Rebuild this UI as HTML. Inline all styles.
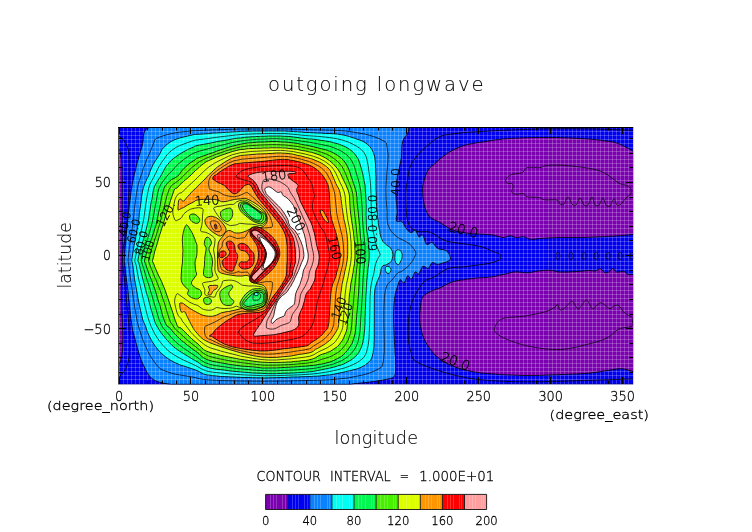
<!DOCTYPE html><html><head><meta charset="utf-8"><title>outgoing longwave</title>
<style>html,body{margin:0;padding:0;background:#fff;}svg{display:block;}text{font-family:"DejaVu Sans","Liberation Sans",sans-serif;font-weight:200;fill:#000;stroke:#000;stroke-width:0.3px;}</style></head><body>
<svg width="752" height="532" viewBox="0 0 752 532">
<defs><clipPath id="pc"><rect x="119" y="127" width="514.2" height="257.5"/></clipPath>
</defs>
<rect width="752" height="532" fill="#fff"/>
<g clip-path="url(#pc)">
<rect x="119" y="127" width="514.2" height="257.5" fill="#0000f0"/>
<path d="M119 150 C120.4 150.7 120.02 152.57 120.4 154.2 C120.78 155.83 121.07 157.45 121.3 159.8 C121.53 162.15 121.65 163.27 121.8 168.3 C121.95 173.33 122.17 175.22 122.2 190 C122.23 204.78 122.15 238.67 122 257 C121.85 275.33 121.23 288.83 121.3 300 C121.37 311.17 122.16 317.92 122.4 324 C122.64 330.08 122.75 332.33 122.75 336.5 C122.75 340.67 122.68 345.46 122.4 349 C122.12 352.54 121.58 355.46 121.1 357.75 C120.62 360.04 121.02 362.04 119.5 362.75 C117.98 363.46 113.25 397.46 112 362 C110.75 326.54 110.83 185.33 112 150 C113.17 114.67 117.6 149.3 119 150Z" fill="#7a00b0"/>
<path d="M422.8 187.4 C423.17 183.35 424.67 178.77 425.7 175.7 C426.73 172.63 427.53 170.95 429 169 C430.47 167.05 432.33 165.92 434.5 164 C436.67 162.08 439.57 159.45 442 157.5 C444.43 155.55 446.1 154.05 449.1 152.3 C452.1 150.55 456.1 148.45 460 147 C463.9 145.55 465.53 144.9 472.5 143.6 C479.47 142.3 492.05 140.18 501.8 139.2 C511.55 138.22 521.25 137.95 531 137.7 C540.75 137.45 550.55 137.45 560.3 137.7 C570.05 137.95 580.72 138.47 589.5 139.2 C598.28 139.93 607.13 140.88 613 142.1 C618.87 143.32 621.2 144.8 624.7 146.5 C628.2 148.2 631.45 150.05 634 152.3 C636.55 154.55 639 146.33 640 160 C641 173.67 641 221.92 640 234.3 C639 246.68 637.53 234.07 634 234.3 C630.47 234.53 626.22 235.22 618.8 235.7 C611.38 236.18 599.25 236.92 589.5 237.2 C579.75 237.48 568.38 237.22 560.3 237.4 C552.22 237.58 545.95 238 541 238.3 C536.05 238.6 533.48 239.48 530.6 239.2 C527.72 238.92 526 236.88 523.7 236.6 C521.4 236.32 519.1 237.65 516.8 237.5 C514.5 237.35 512.2 235.7 509.9 235.7 C507.6 235.7 505.88 237.63 503 237.5 C500.12 237.37 496.35 235.48 492.6 234.9 C488.85 234.32 484.53 234.28 480.5 234 C476.47 233.72 472.72 233.77 468.4 233.2 C464.08 232.63 458.35 231.77 454.6 230.6 C450.85 229.43 448.22 227.5 445.9 226.2 C443.58 224.9 443 224.08 440.7 222.8 C438.4 221.52 434.12 219.8 432.1 218.5 C430.08 217.2 429.7 216.58 428.6 215 C427.5 213.42 426.35 211.5 425.5 209 C424.65 206.5 423.95 203.6 423.5 200 C423.05 196.4 422.43 191.45 422.8 187.4Z" fill="#7a00b0"/>
<path d="M422.8 297 C424.67 294.07 428.62 292.67 431.6 291.1 C434.58 289.53 437.45 289.05 440.7 287.6 C443.95 286.15 447.35 283.7 451.1 282.4 C454.85 281.1 458.88 280.52 463.2 279.8 C467.52 279.08 472.68 278.53 477 278.1 C481.32 277.67 484.77 277.78 489.1 277.2 C493.43 276.62 498.67 275.47 503 274.6 C507.33 273.73 511.07 272.28 515.1 272 C519.13 271.72 523.47 273.03 527.2 272.9 C530.93 272.77 533.7 271.63 537.5 271.2 C541.3 270.77 546.2 270.15 550 270.3 C553.8 270.45 555.3 271.92 560.3 272.1 C565.3 272.28 575.23 271.65 580 271.4 C584.77 271.15 586.3 270.67 588.9 270.6 C591.5 270.53 593.73 271.3 595.6 271 C597.47 270.7 598.6 268.55 600.1 268.8 C601.6 269.05 603.23 271.88 604.6 272.5 C605.97 273.12 606.93 273.12 608.3 272.5 C609.67 271.88 611.43 268.87 612.8 268.8 C614.17 268.73 614.65 271.67 616.5 272.1 C618.35 272.53 622.03 271.02 623.9 271.4 C625.77 271.78 626.02 273.88 627.7 274.4 C629.38 274.92 631.12 274.48 634 274.5 C636.88 274.52 643.17 259.53 645 274.5 C646.83 289.47 649.37 348.62 645 364.3 C640.63 379.98 628.05 367.15 618.8 368.6 C609.55 370.05 599.25 372.02 589.5 373 C579.75 373.98 570.05 374.1 560.3 374.5 C550.55 374.9 540.75 375.4 531 375.4 C521.25 375.4 511.55 375.13 501.8 374.5 C492.05 373.87 480.8 373.07 472.5 371.6 C464.2 370.13 457.85 368.15 452 365.7 C446.15 363.25 441.3 360.07 437.4 356.9 C433.5 353.73 431.03 350.35 428.6 346.7 C426.17 343.05 424.25 339.38 422.8 335 C421.35 330.62 420.3 324.78 419.9 320.4 C419.5 316.02 419.92 312.6 420.4 308.7 C420.88 304.8 420.93 299.93 422.8 297Z" fill="#7a00b0"/>
<path d="M124.6 257 C125.02 250.33 126.32 235.83 127.4 225 C128.48 214.17 129.97 200.17 131.1 192 C132.23 183.83 133.32 180.27 134.2 176 C135.08 171.73 135.73 169.1 136.4 166.4 C137.07 163.7 137.58 162 138.2 159.8 C138.82 157.6 139.47 155.38 140.1 153.2 C140.73 151.02 141.48 148.73 142 146.7 C142.52 144.67 142.93 142.73 143.2 141 C143.47 139.27 143.4 137.77 143.6 136.3 C143.8 134.83 143.9 133.42 144.4 132.2 C144.9 130.98 145.58 129.83 146.6 129 C147.62 128.17 148.93 127.57 150.5 127.2 C152.07 126.83 131.08 126.87 156 126.8 C180.92 126.73 258.5 126.8 300 126.8 C341.5 126.8 386.92 126.68 405 126.8 C423.08 126.92 408.08 126.38 408.5 127.5 C408.92 128.62 408.28 131.67 407.5 133.5 C406.72 135.33 404.73 136.62 403.8 138.5 C402.87 140.38 402.32 141.62 401.9 144.75 C401.47 147.88 401.57 154.12 401.25 157.25 C400.93 160.38 400.62 160.38 400 163.5 C399.38 166.62 398.17 172.25 397.5 176 C396.83 179.75 396.32 183.33 396 186 C395.68 188.67 395.52 188.92 395.6 192 C395.68 195.08 396.27 201.17 396.5 204.5 C396.73 207.83 397.02 209.25 397 212 C396.98 214.75 395.57 219.4 396.4 221 C397.23 222.6 400.43 220.4 402 221.6 C403.57 222.8 404.23 226.33 405.8 228.2 C407.37 230.07 409.83 232.57 411.4 232.8 C412.97 233.03 413.95 228.9 415.2 229.6 C416.45 230.3 417.65 236.1 418.9 237 C420.15 237.9 421.43 233.75 422.7 235 C423.97 236.25 424.93 243.23 426.5 244.5 C428.07 245.77 430.23 241.93 432.1 242.6 C433.97 243.27 435.5 247.22 437.7 248.5 C439.9 249.78 443.37 249.3 445.3 250.3 C447.23 251.3 448.52 252.92 449.3 254.5 C450.08 256.08 450.67 258.52 450 259.8 C449.33 261.08 447.35 261.47 445.3 262.2 C443.25 262.93 439.9 264.13 437.7 264.2 C435.5 264.27 433.67 261.93 432.1 262.6 C430.53 263.27 429.87 267.58 428.3 268.2 C426.73 268.82 424.27 265.37 422.7 266.3 C421.13 267.23 420.15 272.88 418.9 273.8 C417.65 274.72 416.45 270.9 415.2 271.8 C413.95 272.7 412.65 278.57 411.4 279.2 C410.15 279.83 408.95 274.97 407.7 275.6 C406.45 276.23 405.15 282.35 403.9 283 C402.65 283.65 401.3 278.83 400.2 279.5 C399.1 280.17 398.17 284.42 397.3 287 C396.43 289.58 395.63 291.17 395 295 C394.37 298.83 393.75 305.17 393.5 310 C393.25 314.83 393.4 319.58 393.5 324 C393.6 328.42 393.89 332.33 394.1 336.5 C394.31 340.67 394.53 344.83 394.75 349 C394.97 353.17 395.32 357.42 395.4 361.5 C395.47 365.58 395.72 370.79 395.2 373.5 C394.68 376.21 394.62 376.62 392.25 377.75 C389.88 378.88 384.96 379.52 381 380.25 C377.04 380.98 372.67 381.58 368.5 382.1 C364.33 382.62 359.33 383.03 356 383.4 C352.67 383.77 351.17 384.13 348.5 384.3 C345.83 384.47 368.08 384.38 340 384.4 C311.92 384.42 207.67 384.42 180 384.4 C152.33 384.38 176.33 384.45 174 384.3 C171.67 384.15 168.75 383.97 166 383.5 C163.25 383.03 159.92 382.42 157.5 381.5 C155.08 380.58 153.17 379.42 151.5 378 C149.83 376.58 148.75 375 147.5 373 C146.25 371 145.17 368.5 144 366 C142.83 363.5 141.58 361 140.5 358 C139.42 355 138.5 351.58 137.5 348 C136.5 344.42 135.46 340.5 134.5 336.5 C133.54 332.5 132.83 331.58 131.75 324 C130.67 316.42 129.14 300.83 128 291 C126.86 281.17 125.47 270.67 124.9 265 C124.33 259.33 124.18 263.67 124.6 257Z" fill="#0a82ff"/>
<path d="M132.3 257 C133.17 250.33 136.28 235.83 138 225 C139.72 214.17 141.18 199.5 142.6 192 C144.02 184.5 145.5 182.67 146.5 180 C147.5 177.33 148.02 177.33 148.6 176 C149.18 174.67 149.38 173.6 150 172 C150.62 170.4 151.37 168.28 152.3 166.4 C153.23 164.52 154.48 162.52 155.6 160.7 C156.72 158.88 157.8 157.53 159 155.5 C160.2 153.47 161.23 150.52 162.8 148.5 C164.37 146.48 166.37 144.88 168.4 143.4 C170.43 141.92 172.65 140.62 175 139.6 C177.35 138.58 179.85 138 182.5 137.3 C185.15 136.6 188.15 135.9 190.9 135.4 C193.65 134.9 191.15 134.93 199 134.3 C206.85 133.67 227 132.12 238 131.6 C249 131.08 257 131.27 265 131.2 C273 131.13 279.17 130.98 286 131.2 C292.83 131.42 299.33 132.12 306 132.5 C312.67 132.88 321.1 133.25 326 133.5 C330.9 133.75 332.27 133.68 335.4 134 C338.53 134.32 341.67 134.7 344.8 135.4 C347.93 136.1 351.38 137.27 354.2 138.2 C357.02 139.13 359.69 140.12 361.7 141 C363.71 141.88 364.62 142.17 366.25 143.5 C367.88 144.83 370.12 146.71 371.5 149 C372.88 151.29 373.82 153.79 374.5 157.25 C375.18 160.71 375.35 163.96 375.6 169.75 C375.85 175.54 375.88 186.21 376 192 C376.12 197.79 376.08 200.67 376.3 204.5 C376.52 208.33 376.8 210.75 377.3 215 C377.8 219.25 378.55 225.92 379.3 230 C380.05 234.08 380.82 237.2 381.8 239.5 C382.78 241.8 383.7 242.3 385.2 243.8 C386.7 245.3 389.53 246.65 390.8 248.5 C392.07 250.35 392.77 252.77 392.8 254.9 C392.83 257.03 392 259.7 391 261.3 C390 262.9 388.3 263.63 386.8 264.5 C385.3 265.37 383.2 264.63 382 266.5 C380.8 268.37 380.63 272.57 379.6 275.7 C378.57 278.83 376.7 281.92 375.8 285.3 C374.9 288.68 374.48 289.55 374.2 296 C373.92 302.45 374.12 317.25 374.1 324 C374.08 330.75 374.2 332.33 374.1 336.5 C374 340.67 374.02 345.25 373.5 349 C372.98 352.75 372.46 356.29 371 359 C369.54 361.71 367.25 363.58 364.75 365.25 C362.25 366.92 359.54 367.86 356 369 C352.46 370.14 347.67 371.17 343.5 372.1 C339.33 373.03 335.17 373.97 331 374.6 C326.83 375.23 322.67 375.58 318.5 375.9 C314.33 376.22 315.42 376.19 306 376.5 C296.58 376.81 277.67 377.9 262 377.75 C246.33 377.6 222.83 376.81 212 375.6 C201.17 374.39 201.98 372.18 197 370.5 C192.02 368.82 186.33 367.13 182.1 365.5 C177.87 363.87 174.88 362.58 171.6 360.7 C168.32 358.82 165.25 356.83 162.4 354.2 C159.55 351.57 156.7 347.98 154.5 344.9 C152.3 341.82 150.73 338.98 149.2 335.7 C147.67 332.42 146.42 328.15 145.3 325.2 C144.18 322.25 143.93 323.7 142.5 318 C141.07 312.3 138.37 299.83 136.75 291 C135.13 282.17 133.54 270.67 132.8 265 C132.06 259.33 131.43 263.67 132.3 257Z" fill="#00fff0"/>
<path d="M396 251 C396.75 250 398.5 249.5 399.5 250 C400.5 250.5 401.67 252.5 402 254 C402.33 255.5 402.08 257.25 401.5 259 C400.92 260.75 399.5 264 398.5 264.5 C397.5 265 396.08 263.42 395.5 262 C394.92 260.58 394.92 257.83 395 256 C395.08 254.17 395.25 252 396 251Z" fill="#00fff0"/>
<path d="M385.5 267.5 C385.92 266.58 387.58 266.17 388.5 266.5 C389.42 266.83 390.92 268.37 391 269.5 C391.08 270.63 389.83 272.88 389 273.3 C388.17 273.72 386.58 272.97 386 272 C385.42 271.03 385.08 268.42 385.5 267.5Z" fill="#00fff0"/>
<path d="M138.6 257 C139.92 250.33 144.97 235.83 147.4 225 C149.83 214.17 151.77 198.83 153.2 192 C154.63 185.17 154.72 186.67 156 184 C157.28 181.33 159.3 178.78 160.9 176 C162.5 173.22 163.73 170 165.6 167.3 C167.47 164.6 169.75 161.98 172.1 159.8 C174.45 157.62 177.18 155.85 179.7 154.2 C182.22 152.55 184.87 151.08 187.2 149.9 C189.53 148.72 191.73 147.88 193.7 147.1 C195.67 146.32 191.62 146.68 199 145.2 C206.38 143.72 227 139.68 238 138.2 C249 136.72 257 136.6 265 136.3 C273 136 279.17 136.02 286 136.4 C292.83 136.78 299.54 137.87 306 138.6 C312.46 139.33 319.53 139.93 324.75 140.8 C329.97 141.67 333.64 142.67 337.3 143.8 C340.96 144.93 344.05 146.15 346.7 147.6 C349.35 149.05 351.33 150.62 353.2 152.5 C355.07 154.38 356.65 156.58 357.9 158.9 C359.15 161.22 359.85 163.55 360.7 166.4 C361.55 169.25 362.32 172.94 363 176 C363.68 179.06 364.35 182.08 364.75 184.75 C365.15 187.42 365.19 188.71 365.4 192 C365.61 195.29 365.9 200.33 366 204.5 C366.1 208.67 365.9 212.83 366 217 C366.1 221.17 366.18 225.17 366.6 229.5 C367.02 233.83 368.1 238.25 368.5 243 C368.9 247.75 369.17 253.17 369 258 C368.83 262.83 368 266.5 367.5 272 C367 277.5 366.46 282.33 366 291 C365.54 299.67 365.07 316.83 364.75 324 C364.43 331.17 364.52 330.67 364.1 334 C363.68 337.33 363.18 340.88 362.25 344 C361.32 347.12 360.17 350.25 358.5 352.75 C356.83 355.25 354.75 357.12 352.25 359 C349.75 360.88 346.62 362.65 343.5 364 C340.38 365.35 337.04 366.17 333.5 367.1 C329.96 368.03 326.83 368.77 322.25 369.6 C317.67 370.43 316.04 371.47 306 372.1 C295.96 372.73 277.67 374.02 262 373.4 C246.33 372.78 222.83 370.38 212 368.4 C201.17 366.42 201.33 363.73 197 361.5 C192.67 359.27 189.5 357.17 186 355 C182.5 352.83 179 350.83 176 348.5 C173 346.17 170.42 343.58 168 341 C165.58 338.42 163.33 335.5 161.5 333 C159.67 330.5 158.17 328.17 157 326 C155.83 323.83 156.32 325.83 154.5 320 C152.68 314.17 148.6 300.17 146.1 291 C143.6 281.83 140.75 270.67 139.5 265 C138.25 259.33 137.28 263.67 138.6 257Z" fill="#00f850"/>
<path d="M145.5 257 C147.17 250.33 153.08 235.83 156 225 C158.92 214.17 161.17 198.83 163 192 C164.83 185.17 165.67 186 167 184 C168.33 182 169.2 181.33 171 180 C172.8 178.67 175.73 177.8 177.8 176 C179.87 174.2 181.37 171.35 183.4 169.2 C185.43 167.05 187.8 164.82 190 163.1 C192.2 161.38 195.1 159.83 196.6 158.9 C198.1 157.97 192.1 159.85 199 157.5 C205.9 155.15 227 147.4 238 144.8 C249 142.2 257 142.33 265 141.9 C273 141.47 279.17 141.65 286 142.2 C292.83 142.75 299.33 143.9 306 145.2 C312.67 146.5 321.25 148.6 326 150 C330.75 151.4 332 152.27 334.5 153.6 C337 154.93 339.13 156.33 341 158 C342.87 159.67 344.37 161.58 345.7 163.6 C347.03 165.62 348.13 168.03 349 170.1 C349.87 172.17 349.73 172.35 350.9 176 C352.07 179.65 354.94 187.25 356 192 C357.06 196.75 356.83 200.33 357.25 204.5 C357.67 208.67 358.08 212.83 358.5 217 C358.92 221.17 359.33 224.83 359.75 229.5 C360.17 234.17 360.88 240.25 361 245 C361.12 249.75 360.75 253.5 360.5 258 C360.25 262.5 359.83 266.5 359.5 272 C359.17 277.5 359.08 282.33 358.5 291 C357.92 299.67 356.62 316.83 356 324 C355.38 331.17 355.38 330.88 354.75 334 C354.12 337.12 353.5 340.04 352.25 342.75 C351 345.46 349.12 347.96 347.25 350.25 C345.38 352.54 343.71 354.62 341 356.5 C338.29 358.38 334.33 360.25 331 361.5 C327.67 362.75 325.17 363.25 321 364 C316.83 364.75 315.83 365.38 306 366 C296.17 366.62 277.67 368.58 262 367.75 C246.33 366.92 222.83 363.62 212 361 C201.17 358.38 201.33 354.83 197 352 C192.67 349.17 189.33 346.67 186 344 C182.67 341.33 179.67 338.67 177 336 C174.33 333.33 172 330.33 170 328 C168 325.67 167.42 328.17 165 322 C162.58 315.83 158.67 300.5 155.5 291 C152.33 281.5 147.67 270.67 146 265 C144.33 259.33 143.83 263.67 145.5 257Z" fill="#46f000"/>
<path d="M153.5 257 C154.96 250.33 159.65 235.83 163 225 C166.35 214.17 171.27 198.17 173.6 192 C175.93 185.83 175.43 189.67 177 188 C178.57 186.33 180.83 184 183 182 C185.17 180 187.33 178.42 190 176 C192.67 173.58 195.67 170.17 199 167.5 C202.33 164.83 203.5 162.88 210 160 C216.5 157.12 228.83 152.18 238 150.2 C247.17 148.22 257 148.43 265 148.1 C273 147.77 279.17 147.68 286 148.2 C292.83 148.72 300.67 150.15 306 151.2 C311.33 152.25 314.67 153.3 318 154.5 C321.33 155.7 323.73 157.05 326 158.4 C328.27 159.75 329.88 161.12 331.6 162.6 C333.32 164.08 334.88 165.58 336.3 167.3 C337.72 169.02 339.23 171.45 340.1 172.9 C340.97 174.35 340.1 172.82 341.5 176 C342.9 179.18 347.12 187.25 348.5 192 C349.88 196.75 349.33 200.33 349.75 204.5 C350.17 208.67 350.48 212.83 351 217 C351.52 221.17 352.32 224.83 352.9 229.5 C353.48 234.17 354.19 240.25 354.5 245 C354.81 249.75 355 253.5 354.75 258 C354.5 262.5 353.83 266.5 353 272 C352.17 277.5 350.71 282.33 349.75 291 C348.79 299.67 347.88 317.25 347.25 324 C346.62 330.75 346.83 328.79 346 331.5 C345.17 334.21 343.71 337.75 342.25 340.25 C340.79 342.75 339.33 344.62 337.25 346.5 C335.17 348.38 332.46 350.15 329.75 351.5 C327.04 352.85 324.96 353.14 321 354.6 C317.04 356.06 315.83 359 306 360.25 C296.17 361.5 277.67 363.31 262 362.1 C246.33 360.89 222.83 356.18 212 353 C201.17 349.82 201 346 197 343 C193 340 190.67 337.5 188 335 C185.33 332.5 182.88 329.83 181 328 C179.12 326.17 179.33 330.17 176.75 324 C174.17 317.83 169.25 300.83 165.5 291 C161.75 281.17 156.25 270.67 154.25 265 C152.25 259.33 152.04 263.67 153.5 257Z" fill="#dcff00"/>
<path d="M178 208 C178.75 191.17 182 203.33 184 201 C186 198.67 188 196.17 190 194 C192 191.83 193.67 190.33 196 188 C198.33 185.67 201.33 182.67 204 180 C206.67 177.33 209 174.67 212 172 C215 169.33 217.67 166.63 222 164 C226.33 161.37 230.83 157.9 238 156.2 C245.17 154.5 257 154.27 265 153.8 C273 153.33 279.17 152.82 286 153.4 C292.83 153.98 300.67 155.95 306 157.3 C311.33 158.65 314.67 159.98 318 161.5 C321.33 163.02 324.03 164.97 326 166.4 C327.97 167.83 328.7 168.5 329.8 170.1 C330.9 171.7 331.57 173.68 332.6 176 C333.63 178.32 334.81 181.33 336 184 C337.19 186.67 338.82 188.58 339.75 192 C340.68 195.42 340.98 200.33 341.6 204.5 C342.23 208.67 342.77 212.83 343.5 217 C344.23 221.17 345.33 225.33 346 229.5 C346.67 233.67 347.29 237.25 347.5 242 C347.71 246.75 347.83 252.5 347.25 258 C346.67 263.5 345.04 269.5 344 275 C342.96 280.5 341.92 282.83 341 291 C340.08 299.17 339.33 317.25 338.5 324 C337.67 330.75 337.25 329 336 331.5 C334.75 334 332.88 336.92 331 339 C329.12 341.08 327.25 342.33 324.75 344 C322.25 345.67 319.12 347.43 316 349 C312.88 350.57 315 352.05 306 353.4 C297 354.75 277.67 358.75 262 357.1 C246.33 355.45 222.83 347.52 212 343.5 C201.17 339.48 200.67 336.58 197 333 C193.33 329.42 192 325.5 190 322 C188 318.5 186.75 315.33 185 312 C183.25 308.67 180.67 319.33 179.5 302 C178.33 284.67 177.25 224.83 178 208Z" fill="#ff9600"/>
<path d="M212.5 179 C213.5 174.75 214.68 176.07 216.5 174.5 C218.32 172.93 220.83 171.22 223.4 169.6 C225.97 167.98 229.3 165.83 231.9 164.8 C234.5 163.77 233.48 164.02 239 163.4 C244.52 162.78 257.17 161.75 265 161.1 C272.83 160.45 279.17 159.02 286 159.5 C292.83 159.98 301 162.42 306 164 C311 165.58 313.17 167 316 169 C318.83 171 321.08 173.5 323 176 C324.92 178.5 326.48 181.33 327.5 184 C328.52 186.67 328.73 188.58 329.1 192 C329.48 195.42 329.43 200.33 329.75 204.5 C330.07 208.67 330.17 212.83 331 217 C331.83 221.17 333.58 225.33 334.75 229.5 C335.92 233.67 337.17 237.25 338 242 C338.83 246.75 340.08 252.5 339.75 258 C339.42 263.5 337.46 269.5 336 275 C334.54 280.5 332.25 282.83 331 291 C329.75 299.17 329.54 317.25 328.5 324 C327.46 330.75 326.42 329.21 324.75 331.5 C323.08 333.79 320.79 335.88 318.5 337.75 C316.21 339.62 313.08 341.39 311 342.75 C308.92 344.11 310 344.96 306 345.9 C302 346.84 294.33 347.57 287 348.4 C279.67 349.23 270.33 351.01 262 350.9 C253.67 350.79 243.25 348.9 237 347.75 C230.75 346.6 228.67 345.88 224.5 344 C220.33 342.12 214.58 338.33 212 336.5 C209.42 334.67 209.67 339.08 209 333 C208.33 326.92 208 313.83 208 300 C208 286.17 208.58 266.67 209 250 C209.42 233.33 209.92 211.83 210.5 200 C211.08 188.17 211.5 183.25 212.5 179Z" fill="#ff0000"/>
<path d="M212 334 C210.42 334.58 207.5 338.67 206 333 C204.5 327.33 203.33 313.83 203 300 C202.67 286.17 203.33 266.67 204 250 C204.67 233.33 206 210.83 207 200 C208 189.17 209.08 188.42 210 185 C210.92 181.58 211.18 179.9 212.5 179.5 C213.82 179.1 216.12 181.72 217.9 182.6 C219.68 183.48 221.65 183.8 223.2 184.8 C224.75 185.8 225.9 187.37 227.2 188.6 C228.5 189.83 229.78 191.3 231 192.2 C232.22 193.1 233.33 193.95 234.5 194 C235.67 194.05 236.83 193.33 238 192.5 C239.17 191.67 240.33 190.17 241.5 189 C242.67 187.83 243.62 186.2 245 185.5 C246.38 184.8 248.3 183.8 249.8 184.8 C251.3 185.8 252.63 189.3 254 191.5 C255.37 193.7 256.5 195.92 258 198 C259.5 200.08 261.33 202 263 204 C264.67 206 266.33 208 268 210 C269.67 212 271.33 214 273 216 C274.67 218 276.5 220 278 222 C279.5 224 280.75 225.67 282 228 C283.25 230.33 284.67 233 285.5 236 C286.33 239 286.72 242.67 287 246 C287.28 249.33 287.25 252.67 287.2 256 C287.15 259.33 286.9 262.67 286.7 266 C286.5 269.33 286.78 273 286 276 C285.22 279 283.58 281.33 282 284 C280.42 286.67 278.17 289.67 276.5 292 C274.83 294.33 273.42 295.83 272 298 C270.58 300.17 269.17 303 268 305 C266.83 307 266.33 308.83 265 310 C263.67 311.17 261.67 311.58 260 312 C258.33 312.42 257.08 312.32 255 312.5 C252.92 312.68 249.79 312.89 247.5 313.1 C245.21 313.31 243.12 313.43 241.25 313.75 C239.38 314.07 238.12 314.17 236.25 315 C234.38 315.83 232.29 317.29 230 318.75 C227.71 320.21 224.92 321.96 222.5 323.75 C220.08 325.54 217.25 327.79 215.5 329.5 C213.75 331.21 213.58 333.42 212 334Z" fill="#ff9600"/>
<path d="M178.75 210 C180.38 208.92 182.08 208.43 183.75 207.5 C185.42 206.57 187.08 205.33 188.75 204.4 C190.42 203.47 192.29 202.63 193.75 201.9 C195.21 201.17 195.21 200.42 197.5 200 C199.79 199.58 204.17 199.4 207.5 199.4 C210.83 199.4 215 199.58 217.5 200 C220 200.42 220.42 201.8 222.5 201.9 C224.58 202 227.92 201 230 200.6 C232.08 200.2 233.33 199.77 235 199.5 C236.67 199.23 238.33 199.17 240 199 C241.67 198.83 243.33 198.25 245 198.5 C246.67 198.75 248.17 199.58 250 200.5 C251.83 201.42 254 202.67 256 204 C258 205.33 260.33 206.83 262 208.5 C263.67 210.17 265.17 211.92 266 214 C266.83 216.08 267.5 218.92 267 221 C266.5 223.08 264.83 225.25 263 226.5 C261.17 227.75 258.17 228.08 256 228.5 C253.83 228.92 251.67 228.58 250 229 C248.33 229.42 247.67 230.37 246 231 C244.33 231.63 241.97 232.55 240 232.8 C238.03 233.05 235.9 232.9 234.2 232.5 C232.5 232.1 231.08 230.57 229.8 230.4 C228.52 230.23 227.77 230.42 226.5 231.5 C225.23 232.58 223.55 235.08 222.2 236.9 C220.85 238.72 219.17 240.22 218.4 242.4 C217.63 244.58 217.78 247.28 217.6 250 C217.42 252.72 217.27 255.78 217.3 258.7 C217.33 261.62 217.53 265.32 217.8 267.5 C218.07 269.68 217.8 270.72 218.9 271.8 C220 272.88 222.58 273.45 224.4 274 C226.22 274.55 227.08 274.73 229.8 275.1 C232.52 275.47 237.97 276.13 240.7 276.2 C243.43 276.27 244.65 275.37 246.2 275.5 C247.75 275.63 249.03 276 250 277 C250.97 278 250.67 280.33 252 281.5 C253.33 282.67 256 283.25 258 284 C260 284.75 262.5 284.67 264 286 C265.5 287.33 266.5 289.67 267 292 C267.5 294.33 267.5 297.62 267 300 C266.5 302.38 265.58 305 264 306.25 C262.42 307.5 259.83 306.88 257.5 307.5 C255.17 308.12 252.08 310 250 310 C247.92 310 246.67 307.71 245 307.5 C243.33 307.29 241.67 308.33 240 308.75 C238.33 309.17 236.88 309.58 235 310 C233.12 310.42 230.83 310.83 228.75 311.25 C226.67 311.67 224.58 311.88 222.5 312.5 C220.42 313.12 218.12 314.38 216.25 315 C214.38 315.62 213.54 316.25 211.25 316.25 C208.96 316.25 205.21 315.83 202.5 315 C199.79 314.17 197.29 312.5 195 311.25 C192.71 310 190.83 308.86 188.75 307.5 C186.67 306.14 184.17 303.93 182.5 303.1 C180.83 302.27 180.5 303.68 178.75 302.5 C177 301.32 173.79 299.42 172 296 C170.21 292.58 169.08 287.67 168 282 C166.92 276.33 165.75 269 165.5 262 C165.25 255 165.75 246.67 166.5 240 C167.25 233.33 168.75 226.33 170 222 C171.25 217.67 172.54 216 174 214 C175.46 212 177.12 211.08 178.75 210Z" fill="#dcff00"/>
<path d="M205.5 219 C206.17 217.83 208 216.83 209.5 216.5 C211 216.17 212.83 216.42 214.5 217 C216.17 217.58 218 218.75 219.5 220 C221 221.25 222.42 222.92 223.5 224.5 C224.58 226.08 225.92 228 226 229.5 C226.08 231 225 232.42 224 233.5 C223 234.58 221.33 235.92 220 236 C218.67 236.08 217.33 234.75 216 234 C214.67 233.25 213.33 232.58 212 231.5 C210.67 230.42 209.08 228.83 208 227.5 C206.92 226.17 205.92 224.92 205.5 223.5 C205.08 222.08 204.83 220.17 205.5 219Z" fill="#ff9600"/>
<path d="M208.5 286.2 C209.08 285.45 211.5 285.6 213 285.5 C214.5 285.4 216.92 285.1 217.5 285.6 C218.08 286.1 217.25 287.6 216.5 288.5 C215.75 289.4 213.92 290 213 291 C212.08 292 211.83 293.97 211 294.5 C210.17 295.03 208.25 294.95 208 294.2 C207.75 293.45 209.42 291.33 209.5 290 C209.58 288.67 207.92 286.95 208.5 286.2Z" fill="#ff9600"/>
<path d="M226.5 242.4 C227.05 241.32 229.62 240.95 230.9 241.3 C232.18 241.65 233.47 242.87 234.2 244.5 C234.93 246.13 234.75 249.27 235.3 251.1 C235.85 252.93 237.32 253.68 237.5 255.5 C237.68 257.32 236.95 260 236.4 262 C235.85 264 234.75 266.05 234.2 267.5 C233.65 268.95 234.02 270.17 233.1 270.7 C232.18 271.23 230.15 271.23 228.7 270.7 C227.25 270.17 225.48 268.95 224.4 267.5 C223.32 266.05 222.2 263.47 222.2 262 C222.2 260.53 223.5 259.62 224.4 258.7 C225.3 257.78 226.7 257.58 227.6 256.5 C228.5 255.42 229.8 253.65 229.8 252.2 C229.8 250.75 228.15 249.43 227.6 247.8 C227.05 246.17 225.95 243.48 226.5 242.4Z" fill="#ff0000"/>
<path d="M220 252.2 C220.82 251.3 223.4 250.73 224.4 251.1 C225.4 251.47 226.37 253.32 226 254.4 C225.63 255.48 223.28 257.25 222.2 257.6 C221.12 257.95 219.87 257.4 219.5 256.5 C219.13 255.6 219.18 253.1 220 252.2Z" fill="#ff0000"/>
<path d="M238.5 244.5 C239.23 243.78 241.43 243.32 242.9 243.5 C244.37 243.68 246.2 244.7 247.3 245.6 C248.4 246.5 248.78 247.98 249.5 248.9 C250.22 249.82 250.88 250.18 251.6 251.1 C252.32 252.02 253.43 252.58 253.8 254.4 C254.17 256.22 254.17 260 253.8 262 C253.43 264 252.68 265.32 251.6 266.4 C250.52 267.48 248.93 268.15 247.3 268.5 C245.67 268.85 243.17 269.03 241.8 268.5 C240.43 267.97 239.28 266.38 239.1 265.3 C238.92 264.22 239.52 262.55 240.7 262 C241.88 261.45 244.73 262.55 246.2 262 C247.67 261.45 249.13 259.97 249.5 258.7 C249.87 257.43 249.13 255.67 248.4 254.4 C247.67 253.13 246.38 251.83 245.1 251.1 C243.82 250.37 241.8 250.55 240.7 250 C239.6 249.45 238.87 248.72 238.5 247.8 C238.13 246.88 237.77 245.22 238.5 244.5Z" fill="#ff0000"/>
<path d="M214.6 224.8 C214.73 224.08 215.82 224.03 216.2 224.6 C216.58 225.17 217.03 227.48 216.9 228.2 C216.77 228.92 215.78 229.47 215.4 228.9 C215.02 228.33 214.47 225.52 214.6 224.8Z" fill="#ff0000"/>
<path d="M190 215 C190.73 214.07 193.43 213.78 195 214.4 C196.57 215.03 198.78 217.4 199.4 218.75 C200.03 220.1 199.48 221.78 198.75 222.5 C198.02 223.22 196.36 223.52 195 223.1 C193.64 222.68 191.43 221.35 190.6 220 C189.77 218.65 189.27 215.93 190 215Z" fill="#46f000"/>
<path d="M221.25 211.25 C222.19 210.21 224.58 209.17 226.25 208.75 C227.92 208.33 230.21 207.71 231.25 208.75 C232.29 209.79 232.71 213.12 232.5 215 C232.29 216.88 231.04 218.96 230 220 C228.96 221.04 227.5 221.46 226.25 221.25 C225 221.04 223.44 219.79 222.5 218.75 C221.56 217.71 220.81 216.25 220.6 215 C220.39 213.75 220.31 212.29 221.25 211.25Z" fill="#46f000"/>
<path d="M186.25 225 C187.08 224.38 187.71 226.04 188.75 227.5 C189.79 228.96 191.46 231.67 192.5 233.75 C193.54 235.83 194.27 237.92 195 240 C195.73 242.08 196.65 243.58 196.9 246.25 C197.15 248.92 196.82 253.38 196.5 256 C196.18 258.62 195.17 259.67 195 262 C194.83 264.33 195.29 267.83 195.5 270 C195.71 272.17 196.96 272.92 196.25 275 C195.54 277.08 191.46 280.42 191.25 282.5 C191.04 284.58 193.54 286.25 195 287.5 C196.46 288.75 198.96 288.75 200 290 C201.04 291.25 201.67 293.54 201.25 295 C200.83 296.46 199.17 298.33 197.5 298.75 C195.83 299.17 192.92 298.33 191.25 297.5 C189.58 296.67 187.96 295 187.5 293.75 C187.04 292.5 189 291.25 188.5 290 C188 288.75 185.67 287.75 184.5 286.25 C183.33 284.75 182 283.38 181.5 281 C181 278.62 181.33 275.17 181.5 272 C181.67 268.83 182.25 265.67 182.5 262 C182.75 258.33 183 253.67 183 250 C183 246.33 182.38 243.12 182.5 240 C182.62 236.88 183.12 233.75 183.75 231.25 C184.38 228.75 185.42 225.62 186.25 225Z" fill="#46f000"/>
<path d="M206.25 237.5 C207.18 236.67 209.17 237.71 210 238.75 C210.83 239.79 211.46 242.08 211.25 243.75 C211.04 245.42 208.75 246.71 208.75 248.75 C208.75 250.79 210.62 253.79 211.25 256 C211.88 258.21 212.46 259.67 212.5 262 C212.54 264.33 211.5 267.67 211.5 270 C211.5 272.33 213.08 274.75 212.5 276 C211.92 277.25 209.46 277.67 208 277.5 C206.54 277.33 204.33 277.08 203.75 275 C203.17 272.92 204.29 268.17 204.5 265 C204.71 261.83 204.71 258.71 205 256 C205.29 253.29 206.35 250.79 206.25 248.75 C206.15 246.71 204.4 245.62 204.4 243.75 C204.4 241.88 205.32 238.33 206.25 237.5Z" fill="#46f000"/>
<path d="M203.75 298.75 C204.17 297.71 206.25 297.29 207.5 297.5 C208.75 297.71 210.83 298.96 211.25 300 C211.67 301.04 211.04 303.12 210 303.75 C208.96 304.38 206.04 304.58 205 303.75 C203.96 302.92 203.33 299.79 203.75 298.75Z" fill="#46f000"/>
<path d="M220 292.5 C220.62 290.21 223.12 288.75 225 287.5 C226.88 286.25 230 285 231.25 285 C232.5 285 232.92 286.25 232.5 287.5 C232.08 288.75 229.17 290.83 228.75 292.5 C228.33 294.17 229.17 296.04 230 297.5 C230.83 298.96 233.54 300 233.75 301.25 C233.96 302.5 232.71 304.38 231.25 305 C229.79 305.62 226.67 305.62 225 305 C223.33 304.38 222.08 303.33 221.25 301.25 C220.42 299.17 219.38 294.79 220 292.5Z" fill="#46f000"/>
<path d="M238.75 203.75 C239.17 202.4 241.04 202.11 242.5 201.9 C243.96 201.69 245.83 201.78 247.5 202.5 C249.17 203.22 250.42 204.79 252.5 206.25 C254.58 207.71 257.92 209.88 260 211.25 C262.08 212.62 264.08 213.04 265 214.5 C265.92 215.96 266 218.5 265.5 220 C265 221.5 263.33 222.98 262 223.5 C260.67 224.02 259.29 223.68 257.5 223.1 C255.71 222.52 253.33 221.35 251.25 220 C249.17 218.65 246.88 216.67 245 215 C243.12 213.33 241.04 211.88 240 210 C238.96 208.12 238.33 205.1 238.75 203.75Z" fill="#46f000"/>
<path d="M242.5 205 C243.12 204.28 245 203.36 247.5 204.4 C250 205.44 255.21 209.48 257.5 211.25 C259.79 213.02 260.83 213.54 261.25 215 C261.67 216.46 261.25 219.38 260 220 C258.75 220.62 255.83 219.79 253.75 218.75 C251.67 217.71 249.17 215.42 247.5 213.75 C245.83 212.08 244.58 210.21 243.75 208.75 C242.92 207.29 241.88 205.72 242.5 205Z" fill="#00f850"/>
<path d="M240 303.75 C240.21 301.46 243.12 297.29 245 295 C246.88 292.71 249.17 291.04 251.25 290 C253.33 288.96 255.38 288.75 257.5 288.75 C259.62 288.75 262.58 288.62 264 290 C265.42 291.38 266 294.5 266 297 C266 299.5 265.42 303.04 264 305 C262.58 306.96 259.83 307.92 257.5 308.75 C255.17 309.58 252.29 310 250 310 C247.71 310 245.42 309.79 243.75 308.75 C242.08 307.71 239.79 306.04 240 303.75Z" fill="#46f000"/>
<path d="M243.75 303.75 C243.96 302.29 246.88 299.38 248.75 297.5 C250.62 295.62 252.92 293.33 255 292.5 C257.08 291.67 259.83 292.08 261.25 292.5 C262.67 292.92 263.29 293.33 263.5 295 C263.71 296.67 263.92 300.83 262.5 302.5 C261.08 304.17 257.5 304.38 255 305 C252.5 305.62 249.38 306.46 247.5 306.25 C245.62 306.04 243.54 305.21 243.75 303.75Z" fill="#00f850"/>
<path d="M254.5 293 C254.92 292.55 256.95 292.43 257.5 292.8 C258.05 293.17 258.22 294.75 257.8 295.2 C257.38 295.65 255.55 295.87 255 295.5 C254.45 295.13 254.08 293.45 254.5 293Z" fill="#00fff0"/>
<path d="M250.5 228.8 C251.65 227.37 255.02 226.68 257.4 227 C259.78 227.32 262.32 229.05 264.8 230.7 C267.28 232.35 270.23 234.63 272.3 236.9 C274.37 239.17 275.97 241.62 277.2 244.3 C278.43 246.98 279.6 250.3 279.7 253 C279.8 255.7 278.83 258.02 277.8 260.5 C276.77 262.98 275.45 265.43 273.5 267.9 C271.55 270.37 268.58 273.02 266.1 275.3 C263.62 277.58 260.68 280.35 258.6 281.6 C256.52 282.85 255.05 283.02 253.6 282.8 C252.15 282.58 250.3 281.75 249.9 280.3 C249.5 278.85 250.52 276.07 251.2 274.1 C251.88 272.13 252.97 270.52 254 268.5 C255.03 266.48 256.63 264.33 257.4 262 C258.17 259.67 258.53 256.83 258.6 254.5 C258.67 252.17 258.32 249.92 257.8 248 C257.28 246.08 256.38 244.58 255.5 243 C254.62 241.42 253.33 239.73 252.5 238.5 C251.67 237.27 250.83 237.22 250.5 235.6 C250.17 233.98 249.35 230.23 250.5 228.8Z" fill="#ff0000"/>
<path d="M251.8 231.3 C252.42 230.58 254.45 229.68 256.1 230.1 C257.75 230.52 259.63 232.05 261.7 233.8 C263.77 235.55 266.43 238.43 268.5 240.6 C270.57 242.77 272.72 244.77 274.1 246.8 C275.48 248.83 276.55 250.9 276.8 252.8 C277.05 254.7 276.57 256.3 275.6 258.2 C274.63 260.1 272.8 262.17 271 264.2 C269.2 266.23 266.87 268.33 264.8 270.4 C262.73 272.47 260.25 274.95 258.6 276.6 C256.95 278.25 256.03 279.98 254.9 280.3 C253.77 280.62 252.22 279.33 251.8 278.5 C251.38 277.67 251.58 276.55 252.4 275.3 C253.22 274.05 255.25 272.55 256.7 271 C258.15 269.45 259.85 267.75 261.1 266 C262.35 264.25 263.48 262.57 264.2 260.5 C264.92 258.43 265.4 255.67 265.4 253.6 C265.4 251.53 265.02 249.85 264.2 248.1 C263.38 246.35 261.85 244.77 260.5 243.1 C259.15 241.43 257.45 239.55 256.1 238.1 C254.75 236.65 253.12 235.53 252.4 234.4 C251.68 233.27 251.18 232.02 251.8 231.3Z" fill="#ff9e9e"/>
<path d="M259.9 236.9 C260.62 236.7 263.15 238.2 264.8 239.4 C266.45 240.6 268.35 242.5 269.8 244.1 C271.25 245.7 272.62 247.52 273.5 249 C274.38 250.48 275.03 251.33 275.1 253 C275.17 254.67 274.68 257.13 273.9 259 C273.12 260.87 271.82 262.67 270.4 264.2 C268.98 265.73 266.58 267.75 265.4 268.2 C264.22 268.65 263.43 267.93 263.3 266.9 C263.17 265.87 264.1 263.65 264.6 262 C265.1 260.35 265.97 258.5 266.3 257 C266.63 255.5 266.85 254.4 266.6 253 C266.35 251.6 265.45 250 264.8 248.6 C264.15 247.2 263.42 245.93 262.7 244.6 C261.98 243.27 260.97 241.88 260.5 240.6 C260.03 239.32 259.18 237.1 259.9 236.9Z" fill="#ffffff"/>
<path d="M248 176.25 C247.92 175.21 250.71 174.38 252.5 173.75 C254.29 173.12 256.67 172.81 258.75 172.5 C260.83 172.19 262.92 172.11 265 171.9 C267.08 171.69 268.54 171.25 271.25 171.25 C273.96 171.25 278.54 171.9 281.25 171.9 C283.96 171.9 285.21 171.25 287.5 171.25 C289.79 171.25 293.67 171.58 295 171.9 C296.33 172.22 296.67 172.85 295.5 173.2 C294.33 173.55 288.92 173.07 288 174 C287.08 174.93 288.83 177.33 290 178.75 C291.17 180.17 293.67 181.38 295 182.5 C296.33 183.62 297.75 184.25 298 185.5 C298.25 186.75 296.42 188.25 296.5 190 C296.58 191.75 297.83 194 298.5 196 C299.17 198 299.5 199.67 300.5 202 C301.5 204.33 303.17 207.33 304.5 210 C305.83 212.67 307.25 215.42 308.5 218 C309.75 220.58 310.95 222.5 312 225.5 C313.05 228.5 314 232.58 314.8 236 C315.6 239.42 316.1 242.67 316.8 246 C317.5 249.33 318.8 252.83 319 256 C319.2 259.17 318.57 262.5 318 265 C317.43 267.5 316.18 268.5 315.6 271 C315.02 273.5 315.43 277 314.5 280 C313.57 283 311.42 286.67 310 289 C308.58 291.33 306.92 292.17 306 294 C305.08 295.83 305.08 297.83 304.5 300 C303.92 302.17 303.33 304.67 302.5 307 C301.67 309.33 300.17 312.17 299.5 314 C298.83 315.83 298.62 316.58 298.5 318 C298.38 319.42 298.92 321 298.75 322.5 C298.58 324 298.62 325.67 297.5 327 C296.38 328.33 294.25 329.58 292 330.5 C289.75 331.42 286.83 331.85 284 332.5 C281.17 333.15 278 333.95 275 334.4 C272 334.85 268.71 334.97 266 335.2 C263.29 335.43 260.79 335.66 258.75 335.75 C256.71 335.84 254.38 336.38 253.75 335.75 C253.12 335.12 253.96 333.88 255 332 C256.04 330.12 258.28 327.17 260 324.5 C261.72 321.83 263.63 318.58 265.3 316 C266.97 313.42 268.38 311.33 270 309 C271.62 306.67 273.15 304.78 275 302 C276.85 299.22 279.18 295.3 281.1 292.3 C283.02 289.3 284.68 286.72 286.5 284 C288.32 281.28 290.88 278.33 292 276 C293.12 273.67 292.62 272.33 293.2 270 C293.78 267.67 295.12 265 295.5 262 C295.88 259 295.67 255.17 295.5 252 C295.33 248.83 295 245.67 294.5 243 C294 240.33 293.5 238.33 292.5 236 C291.5 233.67 289.96 231.46 288.5 229 C287.04 226.54 285.17 223.38 283.75 221.25 C282.33 219.12 281.46 218.12 280 216.25 C278.54 214.38 276.67 212.08 275 210 C273.33 207.92 271.67 205.83 270 203.75 C268.33 201.67 266.67 199.58 265 197.5 C263.33 195.42 261.33 193.33 260 191.25 C258.67 189.17 258.17 186.88 257 185 C255.83 183.12 254.5 181.46 253 180 C251.5 178.54 248.08 177.29 248 176.25Z" fill="#ff9e9e"/>
<path d="M265 188.75 C265.42 187.61 267.5 186.9 268.75 186.9 C270 186.9 271.04 187.82 272.5 188.75 C273.96 189.68 276.04 191.97 277.5 192.5 C278.96 193.03 280.42 191.48 281.25 191.9 C282.08 192.32 281.67 194.07 282.5 195 C283.33 195.93 285.08 196.58 286.25 197.5 C287.42 198.42 288.38 199.25 289.5 200.5 C290.62 201.75 292.08 203.42 293 205 C293.92 206.58 294.42 208.5 295 210 C295.58 211.5 296 212.67 296.5 214 C297 215.33 297.45 216.67 298 218 C298.55 219.33 299.13 220.33 299.8 222 C300.47 223.67 301.3 226 302 228 C302.7 230 303.42 232 304 234 C304.58 236 305.03 237.67 305.5 240 C305.97 242.33 306.35 245.33 306.8 248 C307.25 250.67 308.25 253.33 308.2 256 C308.15 258.67 307.28 261.67 306.5 264 C305.72 266.33 304.2 268 303.5 270 C302.8 272 302.97 273.5 302.3 276 C301.63 278.5 300.55 282.28 299.5 285 C298.45 287.72 296.75 290.09 296 292.3 C295.25 294.51 295.38 296.22 295 298.25 C294.62 300.28 295 302.62 293.75 304.5 C292.5 306.38 288.96 308.04 287.5 309.5 C286.04 310.96 285.6 312.17 285 313.25 C284.4 314.33 285.36 314.96 283.9 316 C282.44 317.04 278.15 318.29 276.25 319.5 C274.35 320.71 273.33 323.04 272.5 323.25 C271.67 323.46 271.05 321.96 271.25 320.75 C271.45 319.54 272.87 318.71 273.7 316 C274.53 313.29 275.03 307.67 276.25 304.5 C277.47 301.33 279.26 299.03 281 297 C282.74 294.97 284.87 294.47 286.7 292.3 C288.53 290.13 290.45 286.72 292 284 C293.55 281.28 294.87 278.33 296 276 C297.13 273.67 297.8 272.33 298.8 270 C299.8 267.67 301.13 264.33 302 262 C302.87 259.67 303.92 258.67 304 256 C304.08 253.33 303.43 249.33 302.5 246 C301.57 242.67 299.73 238.67 298.4 236 C297.07 233.33 295.9 231.67 294.5 230 C293.1 228.33 291.17 227.88 290 226 C288.83 224.12 288.54 221 287.5 218.75 C286.46 216.5 285 214.38 283.75 212.5 C282.5 210.62 281.46 209.17 280 207.5 C278.54 205.83 276.67 204.17 275 202.5 C273.33 200.83 271.46 198.96 270 197.5 C268.54 196.04 267.08 195.21 266.25 193.75 C265.42 192.29 264.58 189.89 265 188.75Z" fill="#ffffff"/>
<path d="M320.4 210 C320.73 209.42 322.4 210.17 323.5 211.5 C324.6 212.83 326.17 216.17 327 218 C327.83 219.83 328.75 222 328.5 222.5 C328.25 223 326.67 222.25 325.5 221 C324.33 219.75 322.35 216.83 321.5 215 C320.65 213.17 320.07 210.58 320.4 210Z" fill="#ff9600"/>
<path d="M119.5 127V384M123.5 127V384M127.5 127V384M131.5 127V384M135.5 127V384M139.5 127V384M143.5 127V384M147.5 127V384M151.5 127V384M155.5 127V384M159.5 127V384M163.5 127V384M167.5 127V384M171.5 127V384M175.5 127V384M179.5 127V384M183.5 127V384M187.5 127V384M191.5 127V384M195.5 127V384M199.5 127V384M203.5 127V384M208.5 127V384M212.5 127V384M216.5 127V384M220.5 127V384M224.5 127V384M228.5 127V384M232.5 127V384M236.5 127V384M240.5 127V384M244.5 127V384M248.5 127V384M252.5 127V384M256.5 127V384M260.5 127V384M264.5 127V384M268.5 127V384M272.5 127V384M276.5 127V384M280.5 127V384M284.5 127V384M288.5 127V384M293.5 127V384M297.5 127V384M301.5 127V384M305.5 127V384M309.5 127V384M313.5 127V384M317.5 127V384M321.5 127V384M325.5 127V384M329.5 127V384M333.5 127V384M337.5 127V384M341.5 127V384M345.5 127V384M349.5 127V384M353.5 127V384M357.5 127V384M361.5 127V384M365.5 127V384M369.5 127V384M373.5 127V384M378.5 127V384M382.5 127V384M386.5 127V384M390.5 127V384M394.5 127V384M398.5 127V384M402.5 127V384M406.5 127V384M410.5 127V384M414.5 127V384M418.5 127V384M422.5 127V384M426.5 127V384M430.5 127V384M434.5 127V384M438.5 127V384M442.5 127V384M446.5 127V384M450.5 127V384M454.5 127V384M458.5 127V384M463.5 127V384M467.5 127V384M471.5 127V384M475.5 127V384M479.5 127V384M483.5 127V384M487.5 127V384M491.5 127V384M495.5 127V384M499.5 127V384M503.5 127V384M507.5 127V384M511.5 127V384M515.5 127V384M519.5 127V384M523.5 127V384M527.5 127V384M531.5 127V384M535.5 127V384M539.5 127V384M543.5 127V384M548.5 127V384M552.5 127V384M556.5 127V384M560.5 127V384M564.5 127V384M568.5 127V384M572.5 127V384M576.5 127V384M580.5 127V384M584.5 127V384M588.5 127V384M592.5 127V384M596.5 127V384M600.5 127V384M604.5 127V384M608.5 127V384M612.5 127V384M616.5 127V384M620.5 127V384M624.5 127V384M628.5 127V384M119 131.5H633M119 135.5H633M119 139.5H633M119 143.5H633M119 147.5H633M119 151.5H633M119 155.5H633M119 159.5H633M119 163.5H633M119 167.5H633M119 171.5H633M119 175.5H633M119 180.5H633M119 184.5H633M119 188.5H633M119 192.5H633M119 196.5H633M119 200.5H633M119 204.5H633M119 208.5H633M119 212.5H633M119 216.5H633M119 220.5H633M119 224.5H633M119 228.5H633M119 233.5H633M119 237.5H633M119 241.5H633M119 245.5H633M119 249.5H633M119 253.5H633M119 257.5H633M119 261.5H633M119 265.5H633M119 269.5H633M119 273.5H633M119 277.5H633M119 282.5H633M119 286.5H633M119 290.5H633M119 294.5H633M119 298.5H633M119 302.5H633M119 306.5H633M119 310.5H633M119 314.5H633M119 318.5H633M119 322.5H633M119 326.5H633M119 330.5H633M119 335.5H633M119 339.5H633M119 343.5H633M119 347.5H633M119 351.5H633M119 355.5H633M119 359.5H633M119 363.5H633M119 367.5H633M119 371.5H633M119 375.5H633M119 379.5H633" stroke="#fff" stroke-width="1" opacity="0.22" fill="none"/>
<g fill="none" stroke="#000" stroke-linejoin="round">
<path stroke-width="0.8" d="M114.5 377.9 114.9 377.4 116.4 374.1 118.8 364.6 119.3 363.4 120.6 361.6 121.0 360.1 121.0 358.4 121.7 355.6 122.5 349.9 122.5 347.9 122.7 346.4 122.8 337.9 123.0 336.6 122.8 335.4 122.7 327.4 122.5 325.9 122.5 321.9 122.3 320.6 122.0 313.4 121.8 312.1 121.7 308.1 121.5 306.6 121.5 284.1 121.7 282.6 121.8 275.1 122.0 273.6 122.0 260.6 122.2 258.6 122.2 175.9 122.0 174.1 122.0 166.9 121.8 165.6 121.7 162.6 121.5 159.9 120.2 151.9 119.9 150.9 118.9 149.5 118.3 148.1 116.7 140.4 115.4 136.1 114.8 134.9 114.1 134.5 113.6 134.8 113.1 136.1 112.3 141.1 112.2 145.1 112.0 146.6 112.0 152.9 111.8 154.1 111.7 159.6 111.5 161.1 111.5 172.4 111.3 173.9 111.2 192.6 111.0 194.6 111.0 317.1 111.2 319.1 111.3 338.1 111.5 339.9 111.5 350.9 111.7 352.4 111.8 358.1 112.0 359.4 112.0 365.4 112.2 366.9 112.3 370.9 113.1 376.1 113.7 377.6 114.1 377.9ZM638.8 239.6 639.4 239.1 639.7 237.9 640.5 231.4 640.5 220.1 640.7 218.4 640.8 202.9 641.0 201.1 641.0 193.6 640.8 192.1 640.7 176.6 640.5 174.9 640.5 163.4 640.3 162.1 640.2 159.6 639.4 154.9 638.8 152.9 638.1 152.1 637.4 152.0 635.6 152.5 634.4 152.4 632.4 150.8 628.9 148.6 625.4 146.9 623.6 145.9 622.6 145.6 618.6 143.6 617.6 143.4 614.6 142.3 610.9 141.5 605.1 141.0 602.1 140.3 586.4 138.8 581.9 138.7 577.6 138.3 573.1 138.2 568.6 137.8 561.1 137.7 559.6 137.5 531.9 137.5 530.4 137.7 522.6 137.8 521.4 138.0 511.1 138.3 509.9 138.5 502.1 139.0 498.4 139.7 495.9 139.8 479.6 142.5 477.6 142.5 472.1 143.7 470.9 143.8 465.1 145.1 455.9 148.6 448.1 152.8 442.6 156.8 441.7 157.9 440.1 158.8 435.1 163.4 434.4 164.2 430.9 166.8 429.5 168.1 428.1 170.1 426.9 172.3 425.6 175.6 423.5 182.4 422.8 185.9 422.5 188.6 422.5 191.1 422.7 192.4 422.8 195.1 423.0 197.9 423.5 199.9 423.8 203.1 425.1 208.1 426.7 212.1 427.8 214.1 429.6 216.6 432.1 218.6 434.4 219.9 439.4 222.1 447.9 227.5 452.4 229.9 457.1 231.4 467.4 233.2 472.4 233.7 474.9 233.8 476.1 234.0 479.9 234.0 481.1 234.2 484.6 234.3 485.9 234.5 492.1 234.8 502.9 237.6 504.6 237.4 508.1 236.1 509.9 235.8 511.1 235.8 515.4 237.4 517.1 237.7 520.1 237.2 521.4 236.8 524.6 236.8 528.9 238.9 531.4 239.3 533.9 239.2 541.9 238.3 545.4 238.2 550.1 237.8 555.1 237.7 556.4 237.5 585.9 237.5 587.4 237.3 591.9 237.2 593.1 237.0 604.6 236.7 608.9 236.3 613.4 236.2 617.1 235.8 620.4 235.7 623.6 235.3 629.1 235.0 631.4 234.5 634.1 234.5 634.6 234.6 635.7 235.4 638.1 239.4 638.4 239.6ZM644.9 272.1 643.4 268.9 642.6 268.1 642.1 268.0 641.1 268.1 639.8 268.9 638.4 270.3 635.7 273.4 634.4 274.4 633.6 274.5 627.9 274.4 626.6 273.6 625.3 272.1 623.6 271.3 622.1 271.3 620.6 271.7 618.6 272.0 616.4 272.0 615.4 271.2 613.7 269.1 612.9 268.8 612.4 268.8 611.6 269.3 608.4 272.3 606.9 272.7 605.4 272.7 604.4 272.4 601.1 269.1 600.1 268.8 599.1 268.9 597.1 270.3 595.6 271.0 593.9 271.0 590.6 270.5 587.9 270.5 581.9 271.2 578.9 271.3 577.6 271.5 570.6 271.8 569.4 272.0 558.4 272.0 552.9 270.6 550.9 270.3 545.6 270.3 537.9 271.0 535.9 271.5 534.6 271.5 530.9 272.5 528.6 272.7 524.4 272.7 517.1 271.8 514.1 272.0 507.9 273.3 505.1 274.2 497.6 275.5 495.9 276.2 491.4 277.0 489.4 277.0 485.9 277.5 483.6 277.5 482.4 277.7 478.9 277.8 477.6 278.0 475.9 278.0 473.9 278.5 467.6 279.0 462.6 280.0 460.9 280.0 453.4 281.6 449.9 282.8 445.6 284.9 444.1 285.8 439.6 288.1 432.4 290.6 424.6 294.8 423.3 296.1 422.1 298.4 421.6 299.6 420.8 303.4 420.7 305.1 419.8 313.1 419.7 315.6 419.5 316.6 420.0 323.4 420.5 326.4 421.8 332.4 423.1 336.6 423.8 338.4 427.1 344.6 431.4 350.7 434.0 353.9 437.4 357.0 439.9 358.9 443.9 361.7 448.6 364.2 457.4 367.9 461.4 369.2 467.9 370.7 475.4 372.2 477.4 372.3 480.9 373.0 491.9 373.8 493.1 374.0 495.1 374.0 502.4 374.7 506.9 374.8 508.1 375.0 512.6 375.0 513.9 375.2 518.6 375.3 520.1 375.5 539.4 375.5 540.6 375.3 545.1 375.2 546.4 375.0 551.1 375.0 552.4 374.8 559.9 374.7 561.1 374.5 565.6 374.5 566.9 374.3 571.4 374.2 572.6 374.0 577.4 374.0 581.4 373.5 586.1 373.5 587.4 373.3 589.1 373.2 592.9 372.5 595.1 372.5 607.9 370.3 609.9 370.2 618.1 368.8 622.4 368.8 624.1 369.0 629.1 370.3 633.9 372.0 638.6 372.0 639.7 371.6 641.7 370.4 643.4 368.1 644.9 365.5M351.6 384.4 350.4 384.5 170.6 384.5 163.6 383.2 157.9 381.7 155.1 380.6 153.6 379.7 151.4 378.0 149.8 376.4 148.1 374.1 146.1 370.6 141.9 361.9 140.1 357.1 137.1 347.1 136.4 344.1 135.8 342.6 134.7 337.1 134.1 335.6 132.6 329.9 130.5 315.9 129.5 304.1 128.5 297.9 128.0 290.6 127.5 288.4 127.2 284.6 125.8 274.6 125.2 268.1 124.3 260.9 124.3 258.6 124.7 255.4 124.8 251.4 125.0 250.1 125.0 248.1 126.0 240.4 126.3 234.4 127.2 226.4 127.5 221.1 128.0 218.6 128.3 214.1 129.0 208.9 129.0 207.1 130.0 201.1 131.3 189.6 131.7 187.9 132.5 182.6 133.2 180.1 134.3 174.4 135.9 168.4 136.1 166.9 137.3 162.1 138.7 158.1 138.8 156.9 140.2 152.9 140.3 151.6 142.0 146.6 143.0 142.1 143.2 140.1 143.3 137.9 143.8 133.6 144.6 131.4 145.5 130.1 146.9 128.8 148.9 127.6 149.4 126.9 150.4 126.8 370.9 126.7 372.9 126.5 381.1 126.5 383.1 126.7 409.2 126.9 409.3 127.1 408.8 127.6 408.5 130.9 407.6 133.6 406.5 135.4 405.6 136.1 404.4 137.6 402.5 141.6 401.8 146.9 401.5 157.4 399.0 169.6 398.3 171.9 397.8 174.6 397.7 176.1 396.5 182.1 396.2 185.9 395.8 188.6 395.8 193.9 396.0 195.4 396.0 198.4 396.7 204.6 397.2 212.1 396.7 215.9 396.3 217.6 396.3 220.6 396.6 221.2 397.1 221.5 398.4 221.5 400.6 221.1 402.1 221.7 403.4 223.4 405.4 227.4 408.0 230.6 409.9 232.1 411.1 232.6 411.9 232.5 413.0 231.6 414.4 229.7 415.1 229.6 415.9 230.4 417.7 234.6 418.9 236.8 419.4 236.9 419.9 236.7 421.2 235.4 421.9 234.9 422.6 235.0 423.2 235.6 423.9 237.4 425.4 242.6 426.7 244.4 428.1 244.4 430.6 242.7 431.4 242.5 432.1 242.6 433.5 243.6 436.0 246.9 437.9 248.6 439.6 249.2 443.1 249.6 446.4 250.9 448.0 252.4 449.6 254.9 450.5 258.1 450.4 258.9 449.9 260.2 446.9 261.8 438.9 264.2 437.6 264.2 436.1 264.0 433.9 262.8 432.6 262.6 432.1 262.7 431.1 263.9 429.6 266.9 428.1 268.3 427.6 268.3 426.4 267.8 425.1 266.8 424.1 266.3 422.9 266.3 422.4 266.7 421.8 267.6 419.2 273.6 418.6 274.0 418.1 273.9 416.1 272.1 415.6 271.9 415.1 272.0 413.9 274.1 412.4 277.9 411.6 279.0 411.1 279.2 410.6 279.1 409.8 278.1 408.6 276.2 407.9 275.8 407.4 276.1 407.1 276.6 405.3 280.9 404.1 283.0 403.6 283.1 403.1 282.8 400.6 279.7 400.1 279.8 399.9 280.1 399.1 281.6 395.3 293.6 395.2 295.1 394.5 298.6 394.5 300.9 394.0 303.1 394.0 305.4 393.8 306.6 393.7 310.1 393.5 311.4 393.5 322.6 393.7 324.1 393.8 329.1 394.0 330.4 394.0 334.1 394.2 335.4 394.5 344.1 395.0 349.1 395.0 352.9 395.5 357.9 395.5 365.4 395.7 366.9 395.5 372.6 394.9 375.4 394.2 376.6 392.4 377.9 390.6 378.4 380.9 380.5 379.1 380.5 374.6 381.5 372.9 381.5 370.9 382.0 369.1 382.0 366.9 382.5 355.6 383.5 353.1 383.9ZM266.9 377.9 262.9 378.0 261.1 377.8 252.4 377.7 250.9 377.5 241.4 377.5 240.1 377.3 235.6 377.2 234.4 377.0 230.4 377.0 229.1 376.8 220.4 376.5 215.1 375.8 212.4 375.7 208.6 375.0 207.1 375.0 203.6 374.0 198.1 371.1 195.1 369.8 183.1 365.8 182.1 365.7 179.4 364.6 173.9 362.1 169.6 359.7 165.8 357.1 160.5 352.6 155.6 346.7 152.2 341.6 148.8 335.1 147.3 331.6 145.4 325.6 144.1 323.1 142.8 319.9 140.5 310.4 138.0 298.4 134.5 278.6 132.7 264.6 131.8 261.1 131.8 259.6 134.0 245.6 135.5 239.4 136.0 235.1 138.2 223.9 139.0 218.6 139.5 212.1 141.2 200.9 141.5 197.1 142.0 194.1 143.3 187.9 144.6 184.1 147.1 178.6 148.6 175.9 150.1 171.4 152.9 164.9 155.8 160.1 158.9 155.6 162.1 149.4 164.9 146.3 168.1 143.5 170.9 141.6 173.9 140.0 180.9 137.6 182.4 137.4 184.9 136.6 187.4 136.2 189.4 135.5 190.4 135.5 192.9 134.8 194.6 134.5 197.4 134.3 200.9 134.2 205.6 133.8 208.1 133.7 213.4 133.0 216.6 133.0 217.9 132.8 221.1 132.7 222.4 132.5 225.4 132.5 226.6 132.3 229.6 132.2 230.9 132.0 237.4 131.7 241.6 131.3 251.6 131.2 253.4 131.0 285.4 131.0 286.9 131.2 289.6 131.3 290.9 131.5 293.6 131.5 294.9 131.7 297.6 131.8 298.9 132.0 301.6 132.0 304.9 132.5 309.6 132.5 310.9 132.7 314.1 132.8 315.4 133.0 320.4 133.0 325.1 133.5 330.9 133.5 332.1 133.7 337.1 134.0 343.9 135.1 349.6 136.6 350.9 137.2 354.9 138.3 356.1 138.9 359.1 139.8 362.6 141.2 365.9 143.1 369.9 146.6 372.2 149.9 373.4 152.6 374.7 157.1 375.5 163.9 375.5 166.9 375.7 168.1 375.8 174.4 376.0 175.9 376.0 190.4 376.2 192.1 376.3 203.1 376.5 204.6 376.5 206.6 377.5 214.9 377.5 216.9 378.2 220.6 378.3 223.1 379.3 229.1 380.0 232.1 380.0 233.6 381.1 237.6 382.8 241.4 385.3 243.9 387.8 245.9 389.6 247.0 390.6 248.1 392.4 251.4 393.0 254.9 392.4 258.4 391.6 260.6 390.9 261.7 389.7 262.9 387.9 263.8 386.9 264.6 383.1 265.6 382.5 266.1 381.7 267.4 380.8 270.1 380.7 271.6 379.7 275.9 376.6 283.1 375.0 288.6 374.3 295.9 374.2 340.1 374.0 341.6 374.0 346.6 373.7 349.1 373.3 350.9 373.2 352.6 372.2 356.6 371.1 359.4 370.4 360.4 369.5 361.1 368.4 362.6 365.8 364.4 364.9 365.4 363.9 365.7 360.9 367.4 358.9 368.2 356.1 369.2 352.9 369.8 351.1 370.5 347.6 371.1 345.9 371.7 329.6 375.0 327.6 375.0 319.4 376.0 312.9 376.3 311.6 376.5 300.1 376.8 298.9 377.0 291.6 377.0 290.4 377.2 287.1 377.3 285.9 377.5 277.6 377.5 276.1 377.7 267.9 377.8ZM398.4 264.7 397.9 264.6 397.1 264.2 395.8 262.9 395.0 260.9 394.8 257.6 395.0 253.9 395.4 251.9 396.6 250.3 397.6 249.8 398.4 249.8 399.9 250.1 401.2 251.6 402.2 254.1 402.2 255.4 402.2 256.6 401.7 259.1 401.2 260.4 399.9 262.9 398.9 264.4ZM389.1 273.4 387.9 273.4 386.4 272.7 385.3 270.4 385.3 268.4 385.5 267.4 386.1 266.8 387.1 266.3 387.9 266.3 389.1 266.8 390.2 267.6 391.0 269.1 391.1 269.9 390.8 270.9 389.9 272.6ZM276.6 373.7 267.4 373.7 266.1 373.5 262.6 373.5 261.4 373.3 252.4 373.0 251.1 372.8 230.1 371.0 224.1 370.0 215.9 369.2 209.1 367.9 203.4 365.9 201.4 364.7 197.9 362.1 193.1 359.5 178.9 350.7 174.0 347.1 168.6 342.0 167.5 340.4 165.3 338.1 164.5 336.9 160.6 332.2 155.9 324.4 154.8 321.6 151.3 310.1 147.7 296.6 146.6 293.4 140.3 269.4 139.4 264.9 138.7 262.4 137.9 261.1 137.8 260.6 138.6 256.6 140.6 248.9 143.7 238.6 147.2 225.4 148.7 218.4 149.3 214.1 150.2 209.4 151.0 203.1 152.0 199.1 153.0 192.1 153.6 189.6 154.4 186.6 156.6 182.6 161.9 174.1 164.8 168.4 166.3 166.1 170.6 161.0 174.3 157.9 180.9 153.3 188.6 149.1 193.4 147.2 194.9 146.1 199.4 145.0 210.9 143.0 217.4 141.5 227.1 140.0 234.6 138.5 238.6 138.0 240.6 138.0 244.6 137.3 249.1 137.0 250.4 136.8 254.4 136.7 255.6 136.5 259.4 136.5 260.6 136.3 266.6 136.2 268.1 136.0 281.1 136.0 282.6 136.2 289.9 136.5 308.4 139.0 311.6 139.0 324.6 140.8 331.4 142.0 333.1 142.7 335.9 143.3 339.4 144.3 343.4 145.9 345.9 147.1 349.6 149.3 352.4 151.5 353.3 152.6 354.5 153.6 357.7 158.1 359.4 162.1 361.2 167.9 363.2 175.9 363.3 177.1 364.0 179.6 364.0 180.6 365.0 184.9 365.2 186.9 365.5 193.1 365.7 194.4 365.8 197.9 366.0 199.1 366.0 203.4 366.2 204.6 366.2 210.6 366.0 212.1 366.0 215.4 366.2 217.1 366.3 224.4 366.5 225.6 366.5 228.4 366.8 231.1 368.0 237.1 368.0 239.1 368.7 242.9 369.0 250.6 369.2 252.1 369.2 258.1 368.7 263.6 367.8 269.9 367.7 272.4 367.3 275.1 367.2 277.4 366.8 280.1 366.5 286.6 366.3 287.9 366.2 291.9 365.8 296.1 365.7 301.9 365.5 303.1 365.5 309.4 365.3 310.6 365.2 316.4 365.0 317.6 365.0 324.1 364.8 325.6 364.7 329.4 363.7 338.1 363.0 340.9 363.0 342.1 361.4 347.1 360.4 349.4 358.6 352.8 356.9 355.0 354.7 357.1 353.1 358.3 352.4 359.2 349.9 360.7 343.6 364.1 341.6 364.9 337.9 365.8 336.4 366.5 328.4 368.4 312.9 371.5 305.6 372.2 299.9 372.5 298.6 372.7 295.9 372.8 294.6 373.0 291.4 373.0 289.9 373.2 282.1 373.3 280.9 373.5 277.4 373.5ZM257.2 295.6 257.9 295.2 258.2 294.4 257.7 292.9 257.1 292.5 256.1 292.5 255.4 292.5 254.6 292.9 254.3 293.4 254.3 294.1 254.8 295.4 255.6 295.7ZM276.6 367.9 262.6 368.0 253.9 367.0 241.1 366.0 230.1 364.5 212.1 361.2 206.6 359.4 203.4 357.7 202.1 356.7 197.9 352.8 193.3 349.6 186.1 344.2 184.9 343.0 182.1 341.0 179.0 338.1 174.6 333.7 170.1 328.3 169.2 327.4 167.1 326.1 165.8 324.1 164.1 320.1 162.3 314.6 159.7 304.6 157.8 299.4 154.7 288.6 152.6 283.4 151.2 279.1 150.1 276.9 148.1 271.6 145.4 263.4 144.4 261.1 146.6 252.6 147.8 248.9 150.9 240.9 155.9 225.4 159.5 208.6 162.0 195.4 163.2 191.6 163.8 188.6 165.1 186.1 166.7 184.4 167.5 183.1 169.2 181.4 171.9 179.3 175.1 177.8 176.4 176.9 177.6 176.2 179.5 174.1 182.0 170.6 186.1 166.3 190.6 162.6 195.6 159.5 196.3 158.4 198.9 157.7 201.4 156.6 205.1 155.4 208.4 154.1 212.4 152.9 216.9 151.1 226.9 147.8 234.4 145.6 241.4 144.0 247.4 143.0 252.1 142.7 258.1 142.0 264.4 142.0 265.6 141.8 268.9 141.7 270.1 141.5 277.4 141.5 282.6 142.0 285.9 142.0 297.9 143.5 300.6 144.2 301.9 144.3 304.6 145.0 305.9 145.0 320.9 148.6 327.4 150.3 328.6 150.9 330.4 151.4 333.9 153.1 335.4 154.1 337.6 155.3 341.6 158.5 344.0 160.9 345.4 162.9 347.7 166.9 349.2 170.1 351.0 176.1 352.7 180.6 353.5 183.6 354.4 185.9 356.5 193.1 356.5 195.1 357.0 197.4 357.0 201.1 359.7 226.6 360.5 237.6 361.0 240.4 361.2 247.6 361.0 248.9 360.7 258.1 360.3 261.9 360.2 264.6 359.8 268.6 359.7 272.1 359.3 276.6 359.2 282.4 359.0 283.6 359.0 286.6 358.8 287.9 358.7 291.9 358.0 299.4 357.7 305.6 356.8 314.1 356.7 316.4 356.3 320.6 356.2 324.4 355.8 326.9 355.5 331.1 355.0 334.1 352.3 343.1 347.7 350.1 346.8 350.9 345.6 352.5 342.9 355.2 340.9 356.8 337.9 358.4 331.1 361.7 323.4 363.7 320.9 364.2 319.4 364.3 315.4 365.2 313.4 365.3 305.6 366.2 301.6 366.3 298.6 366.7 295.9 366.8 294.6 367.0 291.6 367.0 290.4 367.2 286.9 367.3 285.6 367.5 282.1 367.5 280.9 367.7 277.4 367.8ZM260.0 220.1 260.6 219.4 261.2 218.4 261.5 217.1 261.4 215.1 260.9 214.1 260.1 213.1 256.9 210.7 255.6 209.6 249.4 205.3 247.6 204.4 246.1 203.8 245.1 203.8 243.8 204.1 242.6 204.9 242.3 205.4 242.3 205.9 243.3 208.4 245.8 211.9 248.9 215.2 251.1 217.2 254.4 219.2 257.4 220.2ZM249.0 306.4 251.6 306.0 256.9 304.6 258.4 304.4 261.4 303.4 262.6 302.6 262.9 302.1 263.7 299.4 263.7 295.4 263.4 294.1 262.9 293.3 262.1 292.8 259.4 292.0 256.6 292.0 253.6 293.1 251.1 295.1 246.0 300.1 244.1 302.6 243.8 303.4 243.9 304.6 244.4 305.2 246.4 306.2 248.1 306.5ZM281.4 362.4 267.6 362.5 266.1 362.3 262.6 362.2 257.4 361.7 239.6 359.2 220.1 355.2 215.4 353.8 212.1 353.2 206.4 351.1 204.6 350.2 203.4 349.2 201.5 347.6 198.0 343.9 194.9 341.5 191.0 338.1 181.0 328.1 180.1 327.6 179.1 327.7 178.6 327.5 177.3 325.6 175.1 320.1 172.7 312.4 165.4 290.9 161.6 281.6 157.4 273.0 154.6 266.4 154.2 264.9 152.5 261.4 152.5 260.6 153.9 255.4 154.6 251.9 157.7 242.1 159.3 235.9 160.9 231.4 161.8 228.1 163.2 224.6 164.8 218.6 170.6 200.4 173.8 190.9 174.9 188.8 175.4 188.4 176.9 188.1 181.6 183.1 182.9 182.2 183.6 181.4 185.4 179.8 186.9 178.7 188.9 176.8 190.1 176.0 191.0 174.9 194.2 171.9 195.1 170.8 198.9 167.7 199.9 166.5 201.4 165.3 206.1 161.8 217.1 156.8 232.1 151.6 238.4 150.0 241.1 149.5 243.1 149.5 246.6 148.8 248.4 148.7 249.6 148.5 253.9 148.5 255.1 148.3 261.9 148.2 263.1 148.0 268.9 148.0 270.4 147.8 281.1 147.8 282.6 148.0 285.6 148.0 296.4 149.3 303.1 150.7 305.9 151.0 307.9 151.7 311.6 152.3 319.9 155.1 325.4 157.9 329.4 160.5 333.5 164.1 337.7 168.9 340.6 173.6 342.1 177.1 345.8 184.6 348.4 190.9 349.0 193.1 349.5 196.1 350.0 207.1 350.8 214.9 351.7 220.4 351.8 222.1 352.7 226.6 352.8 228.6 353.5 232.1 353.5 234.6 354.0 236.9 354.0 239.4 354.5 241.9 354.5 243.9 354.7 245.1 354.8 249.1 355.0 250.4 355.0 258.1 354.5 261.6 354.5 263.6 353.3 269.9 353.2 272.1 352.8 273.6 352.2 277.4 350.8 283.9 350.0 291.4 349.5 293.6 349.2 298.1 349.0 299.4 349.0 301.9 348.8 303.1 348.7 305.6 348.5 306.9 348.0 316.6 347.5 320.9 347.5 324.4 347.0 326.9 347.0 328.6 346.2 331.6 345.2 334.1 343.6 338.0 342.4 340.4 339.0 344.9 337.4 346.7 329.9 351.6 327.6 352.3 325.9 353.2 322.4 354.1 320.6 354.8 318.1 356.1 315.9 357.6 312.9 358.9 308.4 360.0 305.9 360.5 303.4 360.5 298.6 361.2 295.6 361.3 290.4 362.0 286.9 362.0 285.6 362.2 282.1 362.3ZM261.0 223.9 262.1 223.6 263.1 223.0 264.9 221.3 265.6 220.1 266.0 217.4 265.4 214.9 264.4 213.7 259.9 211.2 252.4 206.2 249.6 203.8 247.9 202.6 245.1 201.8 242.6 201.8 240.1 202.4 239.0 203.1 238.6 204.1 238.5 204.9 238.5 205.9 239.0 208.1 240.6 211.1 242.3 212.9 249.8 219.1 253.9 221.7 258.1 223.4 260.4 223.9ZM227.5 221.4 229.1 220.8 230.3 219.9 231.9 217.4 232.7 214.9 232.7 213.1 232.1 209.9 231.1 208.5 229.9 208.0 227.6 208.3 225.6 208.8 222.1 210.4 220.9 211.7 220.3 213.4 220.8 216.1 221.4 217.4 222.1 218.5 223.6 220.0 225.4 221.1 226.6 221.5ZM196.7 223.4 197.9 223.1 198.8 222.6 199.5 221.4 199.7 220.6 199.7 219.4 198.9 217.8 196.9 215.5 194.9 214.3 193.9 214.0 192.1 214.0 190.5 214.6 189.6 215.6 189.5 216.9 189.8 218.6 190.8 220.4 191.9 221.5 193.6 222.6 195.9 223.4ZM197.6 298.9 199.9 297.3 201.4 295.1 201.5 293.4 201.2 291.9 200.4 290.4 199.7 289.6 195.6 287.9 194.4 286.8 193.1 286.0 191.8 284.4 191.5 283.1 191.5 282.1 191.8 281.4 196.5 274.9 196.5 273.1 195.8 271.4 195.5 269.4 195.0 263.1 195.3 260.6 196.7 255.9 197.0 252.6 197.0 245.6 196.7 243.9 195.3 240.9 195.2 239.9 192.9 234.4 190.9 230.6 189.2 227.9 187.4 225.3 186.6 224.8 185.6 225.6 184.3 228.6 183.0 233.6 182.5 237.1 182.3 240.9 182.5 241.9 182.5 244.6 182.7 245.9 182.8 248.9 183.0 250.1 182.8 251.4 182.7 256.9 182.5 258.4 182.5 262.1 181.5 269.1 181.5 271.9 181.3 273.1 181.2 276.6 181.0 278.1 181.3 280.4 181.7 282.1 183.4 284.9 184.8 286.6 186.7 288.1 188.4 289.9 188.4 290.9 187.4 293.4 187.8 294.6 188.9 295.8 191.4 297.6 193.6 298.4 195.9 299.0ZM209.0 277.6 210.4 277.5 211.1 277.2 212.4 276.4 212.7 275.9 212.7 274.9 211.8 270.9 211.8 267.6 212.2 266.1 212.6 261.9 212.0 257.9 211.4 255.9 209.3 251.1 209.0 249.9 209.1 247.6 211.5 243.6 211.2 241.1 209.7 238.4 208.4 237.4 207.1 237.1 205.9 237.9 205.3 238.9 204.8 240.1 204.3 243.1 204.3 244.4 205.9 247.3 206.2 248.9 204.8 256.9 204.7 259.4 204.5 260.6 204.5 264.9 203.5 271.4 203.5 274.1 203.9 275.6 204.6 276.4 206.6 277.4 208.4 277.7ZM230.2 305.4 231.4 305.1 232.8 303.9 233.6 302.6 233.9 301.6 233.7 300.9 233.1 300.2 230.8 298.4 230.3 297.6 229.2 295.6 228.8 294.1 228.8 293.1 229.3 291.6 231.5 289.1 232.7 287.4 232.6 285.9 232.1 285.3 231.4 285.0 230.4 285.1 226.9 286.4 222.9 288.8 220.3 291.4 219.8 293.6 219.8 295.9 220.6 300.1 222.4 303.3 223.4 304.3 225.4 305.2 226.6 305.5ZM253.0 309.9 254.4 309.7 256.4 309.1 257.4 309.0 258.4 308.4 261.1 307.4 263.4 306.0 264.4 304.6 265.2 303.1 265.7 301.4 266.2 297.1 266.0 294.6 265.4 292.1 264.6 290.6 263.6 289.6 261.4 288.8 258.6 288.5 257.4 288.7 254.9 288.8 252.4 289.3 251.1 290.1 249.9 290.6 245.9 293.8 242.8 297.6 240.4 301.9 240.0 303.1 240.1 305.1 241.3 306.9 242.6 308.2 244.6 309.3 246.9 310.0 250.1 310.1ZM208.2 304.4 210.1 303.9 210.9 302.9 211.5 301.1 211.5 300.4 211.2 299.6 209.9 298.5 208.1 297.5 206.4 297.3 204.1 298.1 203.6 299.1 203.5 300.4 204.3 303.1 205.1 303.9 205.9 304.2 207.4 304.5ZM276.6 357.4 267.6 357.5 266.1 357.3 262.4 357.2 253.4 355.7 241.9 353.2 229.9 349.7 218.4 345.9 209.6 342.7 205.1 340.4 203.1 339.2 200.6 337.2 194.8 330.6 193.3 328.4 189.6 321.4 186.6 315.4 185.7 313.1 184.9 312.0 184.1 311.5 183.6 311.6 182.4 312.3 181.9 312.3 181.4 312.1 180.6 310.6 180.0 308.1 179.6 303.4 180.1 303.0 182.4 303.1 183.4 303.6 189.8 308.4 193.6 310.6 200.1 314.1 202.6 315.2 206.4 316.0 208.4 316.2 211.4 316.3 212.9 316.2 216.4 315.2 221.4 312.8 227.4 311.5 228.6 311.5 234.9 310.2 240.1 308.9 242.1 308.2 242.9 308.3 244.8 309.4 246.9 310.0 252.4 310.0 254.6 309.7 257.6 308.9 258.6 308.3 263.9 306.5 265.4 304.9 266.2 303.1 267.2 300.1 267.5 297.6 267.5 294.6 267.2 292.1 265.6 288.0 264.7 286.6 263.9 285.8 261.9 284.8 259.4 284.4 255.4 283.1 253.6 282.9 251.4 282.1 250.5 281.4 249.8 280.1 249.9 276.9 249.4 276.4 247.6 275.6 245.4 275.4 242.6 276.0 236.9 276.0 226.4 274.5 221.6 273.2 220.1 272.6 218.9 271.7 218.3 270.6 218.0 269.6 217.5 263.1 217.5 251.9 217.7 250.6 217.8 247.1 218.3 242.9 219.1 241.1 220.8 238.6 222.9 236.2 224.1 234.4 224.4 233.6 225.1 233.2 225.7 232.4 227.1 231.1 228.4 230.5 230.4 230.6 234.4 232.7 236.4 233.0 239.9 233.0 243.1 232.2 245.1 231.3 246.1 231.1 248.6 229.6 250.1 229.1 251.1 228.2 252.4 227.4 253.4 227.1 256.1 226.8 258.1 227.1 260.1 227.7 263.1 226.6 265.7 224.1 266.8 222.1 267.2 220.6 267.2 217.6 266.2 214.1 265.2 212.1 264.1 210.8 260.6 207.3 258.1 205.3 254.9 203.1 252.4 201.6 248.1 199.4 245.9 198.6 244.1 198.3 240.1 199.0 237.9 199.0 234.4 199.5 229.4 200.6 227.4 201.2 223.9 201.7 221.6 201.7 217.9 200.0 214.6 199.5 212.4 199.5 211.1 199.3 203.6 199.3 198.4 199.8 195.9 200.4 193.4 202.1 187.9 204.8 183.6 207.6 181.6 208.3 179.4 209.5 178.6 210.1 178.2 210.1 178.0 209.9 178.0 206.6 178.2 205.4 178.3 202.9 178.6 200.9 179.4 199.3 179.9 199.0 180.6 199.1 182.9 201.1 183.6 201.2 184.1 200.9 187.5 196.6 190.0 194.1 191.4 192.3 193.3 190.4 195.9 188.2 196.8 187.1 202.6 181.3 204.1 180.0 209.1 174.5 211.9 172.2 212.9 171.0 217.6 166.8 226.9 160.8 231.6 158.3 233.4 157.6 238.1 156.1 240.6 155.5 256.1 154.2 257.4 154.0 266.6 153.7 267.9 153.5 271.1 153.5 276.4 153.0 281.4 153.0 282.6 153.2 285.9 153.3 292.1 154.0 299.1 155.7 300.6 155.8 305.4 157.2 307.6 157.6 310.6 158.7 311.6 158.8 319.1 161.9 322.6 163.8 326.4 166.5 329.0 168.9 330.1 170.4 332.3 174.9 335.9 183.6 339.1 189.6 340.2 193.1 340.3 194.4 341.0 197.6 341.0 199.6 341.5 201.6 341.5 203.6 342.0 205.6 342.0 207.4 342.7 210.6 342.8 212.4 343.7 216.9 343.8 218.6 344.1 220.1 344.7 221.9 346.2 229.4 346.3 230.9 347.0 234.1 347.7 242.1 347.7 254.6 347.2 260.1 346.0 266.6 344.8 271.6 344.2 275.1 342.0 284.4 341.2 291.4 340.8 293.4 340.5 297.9 340.3 299.1 340.2 301.6 340.0 302.9 340.0 305.4 339.8 306.6 339.7 309.4 339.5 310.6 339.2 316.4 338.8 320.9 338.7 324.4 337.9 328.4 335.9 332.1 331.2 339.1 324.9 344.2 318.6 347.8 315.4 349.4 313.4 351.2 312.1 351.9 309.9 352.7 302.9 354.0 299.9 354.3 290.9 356.0ZM220.9 235.9 219.9 236.1 218.4 235.6 213.1 232.4 210.0 229.9 207.6 227.2 206.1 225.1 205.3 223.1 205.0 221.6 205.0 220.1 205.5 218.9 207.1 217.4 208.1 216.8 210.6 216.3 212.1 216.3 215.6 217.3 218.2 218.9 220.8 221.1 224.6 225.8 226.0 228.9 226.1 229.6 225.9 230.9 224.4 233.6 222.7 234.9ZM210.1 294.9 208.9 294.9 208.3 294.6 208.0 294.1 208.0 293.4 209.1 291.4 209.4 290.1 209.0 288.4 208.3 286.9 208.4 286.4 209.1 285.8 209.9 285.5 212.6 285.5 214.1 285.3 217.4 285.4 217.7 285.9 217.7 286.6 216.6 288.6 213.6 290.5 212.7 291.6 211.3 294.4 210.9 294.7ZM267.1 350.9 259.9 351.0 256.1 350.5 251.6 350.2 248.1 349.5 246.4 349.5 243.1 348.8 241.4 348.7 232.4 346.9 230.9 346.3 228.9 345.9 226.6 344.8 225.1 344.4 219.9 341.7 211.6 336.4 209.9 336.3 209.5 336.1 209.5 335.9 211.1 334.6 212.1 334.1 212.7 333.6 214.6 330.8 216.8 328.4 218.4 327.2 219.8 325.9 222.6 323.9 223.6 322.9 229.1 319.3 230.1 318.9 231.9 317.6 235.4 315.6 237.9 314.5 243.4 313.5 248.9 313.0 250.9 313.0 252.1 312.8 258.1 312.5 259.9 312.2 262.6 311.4 264.6 310.4 265.1 310.1 266.1 308.8 267.4 306.1 268.2 305.1 271.1 299.6 273.6 295.8 276.9 291.9 278.6 289.1 279.6 287.9 280.8 285.9 281.9 284.6 282.7 282.9 284.7 279.6 286.2 276.1 286.7 271.9 286.8 266.1 287.2 260.9 287.2 246.4 286.5 239.9 285.7 236.1 284.7 233.1 283.2 229.9 279.4 223.6 271.7 214.1 269.8 212.1 269.1 211.1 266.7 208.1 264.6 205.9 264.0 204.9 262.0 202.9 258.4 198.4 253.6 190.6 251.7 186.9 250.1 185.0 248.9 184.3 248.1 184.3 246.9 184.6 244.6 185.6 243.1 187.0 241.6 188.9 238.1 192.3 236.4 193.4 234.4 193.9 233.1 193.5 230.1 191.4 224.1 185.3 220.4 183.4 219.1 183.2 217.9 182.6 214.4 180.1 212.9 179.3 212.6 178.9 213.1 176.8 214.1 175.7 216.4 174.6 218.9 172.6 224.1 169.1 226.6 167.7 227.6 166.8 229.4 165.9 234.4 163.8 238.6 163.5 243.6 162.8 247.6 162.7 251.6 162.3 262.1 161.5 278.4 159.5 281.1 159.5 282.9 159.3 284.6 159.5 287.9 159.5 290.6 160.2 292.1 160.3 300.9 162.3 305.4 163.9 307.4 164.3 311.6 166.2 315.9 168.8 318.9 171.3 320.7 173.1 323.2 176.1 325.6 179.8 327.9 184.6 328.7 187.6 329.5 194.4 329.5 199.4 329.7 200.6 329.8 203.4 330.0 204.6 330.0 207.1 330.2 208.4 330.3 210.9 330.5 213.6 331.8 220.1 332.9 223.1 334.1 227.4 334.9 229.4 336.7 235.4 337.6 239.9 338.5 243.1 339.7 250.9 339.8 253.4 340.0 254.6 340.0 258.4 339.5 261.9 338.5 266.6 336.8 272.1 336.2 275.4 334.9 278.9 333.1 283.1 331.5 288.4 331.2 291.4 330.8 293.4 330.5 297.9 330.3 299.1 330.2 301.6 329.8 306.6 329.7 309.4 329.5 310.6 329.5 316.4 329.3 317.6 329.0 322.4 327.9 327.4 327.6 328.4 326.7 329.6 325.5 330.6 323.4 333.4 320.7 336.1 319.4 337.0 318.7 337.9 310.6 343.1 308.8 344.9 307.9 345.4 305.9 346.0 301.4 346.7 286.9 348.5 282.9 348.8 274.6 350.2ZM328.5 222.6 328.6 222.4 328.5 221.4 327.6 218.9 323.9 211.9 322.1 210.1 321.1 209.8 320.6 209.9 320.4 210.1 320.3 210.9 320.6 212.6 321.4 214.9 322.8 217.6 324.8 220.4 325.9 221.5 327.6 222.6ZM216.1 229.1 215.6 229.1 215.2 228.6 214.5 226.1 214.6 224.6 215.4 224.1 215.9 224.2 216.4 224.9 217.0 227.1 216.9 228.4 216.6 228.9ZM255.9 282.9 253.9 283.0 251.4 282.1 250.5 281.4 249.9 280.4 249.8 279.1 249.8 277.9 251.3 273.4 256.6 263.9 257.7 260.9 258.2 258.4 258.5 255.6 258.5 252.6 257.7 247.9 256.9 245.5 255.9 243.6 255.1 242.6 252.4 238.4 250.7 236.4 249.8 231.9 249.8 230.6 250.0 229.6 250.9 228.4 252.4 227.4 253.4 227.1 255.9 226.8 258.1 227.1 260.1 227.8 262.9 229.3 268.1 233.0 272.4 236.8 273.5 238.4 274.4 239.1 275.4 240.6 277.8 245.4 278.7 247.4 279.4 250.1 279.7 251.4 279.8 252.6 279.7 255.4 278.2 260.1 275.4 265.4 273.7 267.9 270.4 271.5 261.6 279.5 258.6 281.6ZM232.1 271.2 230.4 271.2 228.4 270.7 226.9 269.9 224.9 268.2 224.3 267.6 222.7 264.6 222.0 262.1 222.6 260.4 224.4 258.5 226.9 257.1 227.5 256.6 228.9 254.6 229.7 252.9 229.7 251.6 227.2 247.1 226.3 243.9 226.3 242.9 226.7 242.1 227.6 241.4 229.1 241.0 230.1 241.0 231.4 241.4 232.8 242.4 233.4 243.1 234.7 245.6 235.0 249.1 235.6 251.9 236.9 253.6 237.7 255.6 237.7 256.6 237.2 259.4 236.2 263.4 234.3 267.4 233.6 270.4 233.1 270.8ZM245.6 268.9 243.6 269.0 241.4 268.4 239.8 266.9 239.0 265.4 239.1 263.9 240.4 262.1 241.6 261.8 243.4 262.0 246.4 261.9 248.5 260.4 249.5 258.6 249.5 257.6 248.9 255.4 247.4 253.1 246.6 252.3 244.6 251.0 240.6 250.1 239.3 249.1 238.6 248.1 238.0 246.6 238.0 245.4 238.2 244.9 239.4 243.9 241.6 243.3 244.1 243.7 247.6 245.8 250.0 249.4 253.1 252.6 254.0 254.6 254.2 256.6 254.2 259.9 253.7 263.1 252.9 264.6 251.7 266.4 250.6 267.4 248.1 268.5ZM222.1 257.7 220.6 257.6 219.6 256.8 219.3 255.6 219.3 253.4 220.1 252.1 220.9 251.4 222.4 251.0 223.6 250.9 224.4 251.1 225.1 251.5 225.6 252.1 226.2 253.6 226.1 254.4 225.5 255.4 224.6 256.2ZM255.6 336.2 254.9 336.2 253.9 335.9 253.5 335.4 253.5 334.9 253.9 333.9 256.3 329.6 257.9 327.6 259.1 325.6 260.2 324.4 263.6 318.4 265.4 315.9 267.8 311.9 269.9 309.1 271.1 307.1 275.2 301.9 276.1 300.1 284.6 286.6 286.7 283.9 287.4 282.6 289.7 279.6 292.1 275.9 292.7 273.1 292.8 271.4 293.1 269.9 295.5 262.1 295.5 252.1 294.5 242.9 293.2 237.9 292.6 236.4 288.2 228.4 283.9 221.6 281.7 218.4 269.5 203.1 268.0 201.6 265.5 198.1 263.8 196.4 260.6 192.4 258.7 189.1 257.3 185.6 255.6 183.1 253.0 180.1 251.4 178.8 248.4 176.9 248.0 176.1 248.6 175.4 250.1 174.6 253.9 173.3 257.6 172.5 261.6 172.0 266.4 171.7 268.4 171.3 274.6 171.3 278.1 171.7 282.4 171.7 285.6 171.3 290.9 171.3 294.9 171.8 296.0 172.4 296.1 172.9 295.9 173.1 294.6 173.5 289.4 173.6 288.6 173.9 288.0 174.4 287.9 174.9 288.0 175.6 289.6 178.1 290.6 179.2 296.9 183.8 298.0 185.4 298.1 185.9 297.9 186.6 296.8 188.9 296.8 191.4 298.7 195.9 300.2 201.1 311.2 223.1 312.4 226.1 313.3 230.1 314.2 232.4 315.2 237.1 315.3 238.4 316.2 242.1 316.3 243.6 319.0 254.1 319.2 257.6 318.7 262.6 317.9 265.9 316.3 269.4 315.6 271.6 315.3 274.4 315.2 277.1 314.7 279.9 313.7 282.4 310.2 289.1 308.1 291.3 306.6 293.3 305.6 295.4 304.7 300.1 302.6 307.1 299.9 313.1 298.8 316.4 298.5 318.9 299.0 322.4 298.4 325.4 297.6 327.1 294.6 329.4 292.9 330.1 291.9 330.7 279.4 333.7 278.1 333.8 275.9 334.4 273.9 334.7ZM254.9 280.4 254.4 280.5 253.4 280.1 252.0 279.1 251.5 277.9 251.6 276.5 252.3 275.4 253.5 273.9 258.1 269.5 260.2 267.1 262.7 263.6 263.9 260.9 264.7 258.6 265.2 255.1 265.2 252.1 265.0 250.6 264.6 249.3 263.4 246.9 258.6 241.0 256.2 238.4 252.9 235.1 252.1 234.2 251.6 233.1 251.5 231.9 252.3 230.9 253.1 230.3 255.1 229.9 257.1 230.4 259.4 231.9 263.2 234.9 272.7 244.9 274.7 247.4 275.9 249.5 276.9 252.6 277.0 254.4 276.7 256.1 275.6 258.6 273.2 261.9 269.6 265.9 258.1 277.3 256.1 279.5ZM272.9 323.2 272.4 323.4 271.5 322.9 271.3 322.4 271.1 321.1 271.6 319.6 272.9 317.6 273.7 315.6 275.6 306.4 277.2 302.1 279.1 299.1 281.8 296.1 282.6 295.4 285.4 293.5 287.2 291.6 289.8 287.4 290.7 286.4 292.6 282.6 293.6 281.1 295.1 277.6 298.6 270.4 301.6 262.6 303.4 258.9 304.0 255.4 303.8 254.1 303.7 252.1 303.3 250.4 303.2 248.9 302.7 246.6 300.9 241.6 297.9 235.1 294.5 230.1 291.2 227.4 289.8 225.9 288.6 222.9 288.2 220.6 287.6 219.1 285.4 215.1 283.2 211.6 280.9 208.6 278.2 205.6 277.3 204.9 269.4 197.0 267.3 195.1 266.1 193.4 264.8 190.1 264.8 189.4 265.0 188.6 265.3 188.1 266.4 187.4 268.4 186.8 269.1 186.8 270.9 187.5 272.4 188.5 274.8 190.6 277.4 192.4 278.6 192.5 280.6 191.8 281.4 191.9 281.9 192.9 282.4 194.5 282.9 195.2 283.6 195.9 285.9 197.1 288.6 199.4 291.2 202.4 293.4 205.4 297.3 216.1 300.1 222.5 302.2 227.9 303.3 231.9 304.2 233.9 305.7 240.1 307.0 248.9 307.7 250.9 307.8 252.1 308.2 253.9 308.2 257.4 308.0 259.4 306.7 263.9 303.9 269.4 303.3 271.1 302.4 276.4 299.9 284.4 296.9 290.6 295.8 293.4 295.3 296.4 294.7 302.6 294.1 304.4 293.1 305.5 288.3 308.9 286.5 310.6 285.3 312.9 284.6 315.4 284.1 316.0 278.4 318.4 275.9 319.9ZM265.1 268.4 264.4 268.4 263.7 267.9 263.3 267.1 263.3 266.1 263.6 264.6 264.2 263.4 266.2 257.1 266.5 255.4 266.5 252.6 264.8 248.6 260.6 240.9 259.5 237.6 259.6 237.1 260.1 236.8 260.6 236.9 262.4 237.7 264.9 239.4 266.2 240.4 269.6 243.8 273.9 249.4 274.9 251.4 275.2 252.9 275.2 254.6 274.7 257.4 273.4 260.2 271.9 262.6 267.6 267.0 265.9 268.1Z"/>
<path stroke-width="0.7" d="M270.4 381.1 262.6 381.2 235.1 380.9 219.6 380.5 206.1 379.7 201.4 379.1 192.4 377.0 178.9 374.8 173.6 373.8 168.1 372.1 163.1 370.2 160.9 369.1 159.1 367.8 156.5 364.9 152.5 359.4 149.1 353.9 147.3 350.1 144.8 344.6 142.2 338.1 138.4 325.9 137.2 321.4 135.5 311.9 133.4 298.9 130.1 275.9 128.8 265.6 128.2 262.4 128.0 259.6 129.5 246.4 130.5 240.9 133.3 219.4 134.5 208.4 135.8 198.4 136.6 192.6 137.8 186.1 139.5 180.1 142.1 172.6 143.4 168.4 145.8 161.6 150.7 150.6 154.8 139.9 155.4 139.0 156.1 138.4 162.9 135.9 170.6 133.7 179.4 132.2 192.1 130.8 212.9 129.9 241.4 129.0 285.9 128.9 305.9 129.6 334.9 130.3 344.6 130.9 350.9 131.7 365.4 134.2 373.6 136.5 379.6 138.9 385.4 142.0 386.3 142.9 387.3 148.6 388.1 155.1 387.8 162.4 386.9 172.1 385.9 188.4 386.2 199.9 387.1 211.4 387.0 216.9 387.3 221.6 387.8 224.1 388.6 226.4 389.5 228.4 391.3 231.4 392.5 232.9 397.6 237.4 405.1 241.2 409.9 244.2 414.1 249.1 415.5 252.1 416.0 253.9 412.6 260.9 407.9 266.7 401.3 271.6 400.6 271.9 398.6 272.3 398.0 272.6 396.4 274.4 393.4 278.4 391.6 280.4 387.7 283.9 387.1 285.1 385.6 289.6 385.1 291.6 384.4 297.4 383.9 310.6 383.9 323.4 384.3 341.6 384.3 350.9 383.6 360.1 382.3 366.1 381.6 367.0 379.1 368.6 374.9 370.8 369.4 373.1 363.1 374.9 347.9 378.0 330.6 379.7 320.1 380.2 286.1 381.0ZM276.6 375.6 263.4 375.7 243.4 374.9 232.1 374.1 213.6 372.3 208.0 371.4 205.4 370.6 201.4 368.8 195.9 365.7 181.9 359.3 174.4 355.1 169.7 351.9 166.0 348.6 163.4 345.9 160.6 342.5 157.6 338.4 154.6 333.6 151.2 326.6 148.2 318.6 144.3 303.6 138.2 276.9 136.2 265.6 134.9 261.4 134.9 259.9 137.2 247.9 139.0 240.9 142.6 224.9 143.7 219.1 145.9 203.6 147.3 195.1 148.5 188.9 149.7 184.9 151.9 180.4 153.6 177.6 157.8 168.9 159.4 165.9 161.3 162.9 166.8 155.1 169.4 152.3 173.0 149.4 176.9 146.9 181.4 144.9 192.1 141.0 195.6 140.1 209.1 138.4 214.6 137.5 235.9 135.0 243.9 134.3 255.1 133.8 268.1 133.5 285.1 133.6 292.6 134.2 305.1 135.5 318.6 136.4 329.9 137.6 336.6 138.7 342.9 140.2 347.9 141.9 352.1 143.8 356.6 146.2 359.6 148.2 361.9 150.1 364.0 152.6 364.9 154.0 365.9 156.1 366.8 158.9 368.1 165.4 369.9 178.1 370.5 183.9 371.0 193.6 371.1 202.1 371.6 214.6 372.3 223.6 373.0 229.9 374.4 237.9 376.2 244.9 380.2 254.4 380.0 255.1 378.4 257.6 377.0 260.4 375.7 263.6 374.8 267.4 373.7 273.9 371.9 281.1 371.1 285.4 370.5 289.4 370.0 297.1 369.6 324.9 369.0 338.9 368.1 345.6 366.7 351.4 365.6 354.4 364.7 356.1 363.3 357.9 359.4 361.1 355.9 363.3 350.1 365.9 345.1 367.8 336.6 370.0 328.9 371.7 318.6 373.3 311.1 374.1 298.4 374.9ZM278.9 370.6 274.9 370.9 263.4 370.7 253.9 370.1 236.6 368.5 230.9 367.8 215.4 365.5 210.1 364.4 205.1 362.7 201.6 360.6 195.9 356.4 183.4 348.0 179.1 344.8 176.4 342.5 172.6 338.9 166.5 331.6 163.9 329.1 161.6 325.4 159.8 321.6 158.0 316.1 150.3 289.9 144.9 272.9 142.5 264.4 141.6 261.9 141.3 260.1 141.8 257.6 143.9 249.9 147.4 239.4 151.3 226.4 152.9 219.1 157.7 193.1 158.9 188.6 160.6 184.8 164.6 179.1 168.4 174.4 173.0 169.9 176.1 166.1 178.4 163.9 184.1 159.2 191.8 154.1 193.6 153.2 197.9 151.6 216.7 146.4 232.9 142.4 239.4 141.2 245.6 140.3 257.4 139.3 267.1 139.0 269.9 138.8 277.9 138.8 288.6 139.4 298.9 140.7 310.6 142.5 320.4 144.3 328.9 146.1 334.1 147.8 336.6 148.9 340.4 150.6 343.1 152.3 345.8 154.1 348.4 156.5 350.4 158.8 352.2 161.6 353.5 164.4 354.7 167.6 357.4 176.6 359.3 183.6 360.9 191.6 362.0 206.1 362.3 215.1 362.9 224.9 363.7 233.1 365.0 244.1 365.1 248.1 365.0 257.4 363.0 279.1 362.5 291.1 360.2 328.6 359.9 331.9 359.0 337.1 357.9 341.9 356.8 345.1 355.4 347.9 352.5 352.1 349.4 355.3 347.6 356.8 342.6 360.2 339.9 361.5 332.6 364.3 321.9 366.9 316.1 368.0 311.4 368.6 305.4 369.2 294.1 370.0ZM254.4 293.0 253.6 294.0 253.0 295.9 252.9 298.1 253.2 299.9 253.6 300.2 254.4 300.3 257.4 300.1 258.6 299.7 259.5 299.1 260.2 297.9 260.8 296.1 260.6 295.0 259.6 293.6 258.4 292.7 257.1 292.3 255.6 292.5M278.4 365.1 267.6 365.2 262.9 365.1 242.1 362.8 234.6 361.7 219.1 358.8 211.4 356.9 208.2 355.9 205.9 354.8 202.9 352.9 195.9 346.9 188.5 341.1 181.1 334.4 179.1 332.3 176.8 330.6 174.6 328.1 172.6 325.0 170.5 322.1 168.9 318.0 164.4 303.1 160.2 290.6 158.1 285.1 153.2 273.4 149.2 263.1 148.7 261.4 148.8 259.6 150.9 251.4 154.2 241.6 159.7 224.1 167.0 195.6 169.1 189.4 171.3 185.9 172.6 184.6 175.1 183.0 180.1 179.2 185.9 173.3 191.9 167.5 199.1 161.9 202.4 160.1 206.9 158.0 216.4 154.2 225.6 151.0 234.9 148.2 240.6 147.0 248.6 145.8 258.9 145.1 271.6 144.6 276.4 144.6 285.4 145.0 297.1 146.4 306.6 148.2 315.9 150.5 321.4 152.2 326.4 154.1 330.0 155.9 335.6 159.7 338.6 162.4 341.9 166.4 344.7 171.6 348.7 181.4 351.7 189.6 352.8 193.6 353.3 198.6 353.4 201.9 354.6 214.1 356.1 225.6 357.3 238.4 357.7 241.1 358.0 246.4 357.9 257.4 357.3 264.1 354.7 286.9 352.7 311.4 351.8 323.9 351.2 329.6 350.4 333.4 348.0 340.4 346.6 342.9 344.9 345.4 341.6 349.4 340.5 350.6 337.9 352.5 332.6 355.6 328.6 357.3 321.9 359.3 314.4 361.9 307.6 363.1 289.9 364.6ZM260.9 221.9 261.8 221.4 262.7 220.4 263.4 219.2 263.6 218.1 263.6 216.6 263.3 215.4 262.9 214.6 261.9 213.6 255.9 209.1 251.9 206.4 249.4 204.5 247.6 203.5 245.9 202.9 244.1 202.9 242.6 203.2 240.9 204.1 240.5 204.9 240.5 206.4 240.9 207.6 241.6 209.1 243.5 211.6 247.8 215.9 250.6 218.2 254.4 220.5 257.4 221.6 259.6 221.9ZM250.2 308.1 253.6 307.6 259.6 306.0 262.1 304.8 263.5 303.6 264.1 302.4 264.7 300.4 264.9 298.6 264.9 295.6 264.4 293.1 263.1 291.4 261.1 290.6 258.9 290.4 255.6 290.5 253.1 291.2 250.9 292.6 249.5 293.6 247.6 295.4 244.5 298.9 242.7 301.6 242.1 302.9 241.9 304.1 242.3 305.4 243.4 306.5 245.6 307.7 247.6 308.2ZM261.7 307.1 263.6 306.2 264.8 304.9 265.8 302.6 266.6 299.6 266.8 296.9 266.4 292.4 265.5 290.1 264.2 288.4 263.1 287.5 262.1 287.0 258.4 286.4 254.4 285.9 248.6 286.0 242.4 285.2 241.6 284.9 237.9 282.3 234.9 280.9 233.1 280.4 231.6 280.2 228.9 280.1 223.9 280.6 222.9 281.0 222.6 281.4 221.8 284.4 220.5 287.1 216.4 292.9 215.4 296.1 214.9 296.9 214.1 297.1 212.6 297.1 208.4 296.2 206.4 295.4 204.9 294.4 204.7 293.4 204.9 289.9 202.7 284.4 202.5 283.6 202.6 283.1 203.4 282.7 206.6 282.0 211.6 281.4 214.1 280.7 217.2 279.6 218.0 279.1 218.2 278.6 218.0 277.6 215.5 272.6 214.9 270.1 215.1 261.4 214.7 256.9 213.5 249.4 214.6 244.9 215.1 239.1 214.5 238.1 212.9 236.5 209.4 234.0 207.6 233.1 205.9 232.4 201.4 231.6 200.9 231.3 200.6 230.9 200.6 229.9 201.8 225.4 202.3 221.4 202.5 216.1 203.2 209.6 203.0 208.9 202.4 208.5 199.9 207.8 198.4 207.7 194.9 208.1 190.4 209.2 187.4 210.9 184.1 213.6 183.3 214.6 181.6 217.6 180.9 218.4 176.6 220.6 175.9 220.8 175.4 220.5 174.6 219.1 173.6 216.6 173.0 214.4 172.8 212.4 172.9 210.4 173.5 206.4 175.1 199.1 176.4 196.4 178.4 193.9 179.1 193.4 181.6 192.6 182.4 192.1 186.4 187.9 194.1 180.9 204.8 170.4 208.9 166.9 214.4 163.3 218.4 161.1 228.4 156.3 232.9 154.6 239.9 152.8 250.6 151.5 271.9 150.5 280.4 150.4 285.6 150.7 293.4 151.6 305.1 154.0 313.6 156.3 319.4 158.5 324.4 161.1 329.2 164.6 331.4 166.6 332.8 168.4 334.5 170.9 336.2 173.9 338.8 179.9 342.1 186.6 344.2 191.9 345.2 196.6 345.7 203.4 346.8 212.9 347.6 218.9 349.3 227.4 350.2 233.4 351.1 242.6 351.4 255.6 350.7 262.6 348.2 276.4 346.4 284.4 345.1 294.6 343.1 323.9 342.7 327.4 341.8 330.4 340.2 333.9 338.0 337.9 335.4 341.6 334.4 342.7 332.4 344.3 327.6 347.6 318.6 351.8 316.9 352.8 314.1 354.6 310.9 355.9 305.1 357.1 291.6 358.8 275.9 360.0 268.1 360.0 260.9 359.5 252.6 358.3 240.6 356.1 220.6 351.0 210.6 347.9 207.4 346.5 204.3 344.6 198.4 339.8 193.0 334.6 191.0 332.4 184.4 323.6 182.7 321.6 181.1 318.6 179.1 316.6 178.1 315.2 176.8 312.1 175.6 307.4 174.7 302.9 174.7 300.1 175.1 297.9 175.9 295.6 176.6 294.1 176.9 293.8 177.4 293.6 178.1 294.0 189.6 302.2 193.4 304.0 197.9 305.5 201.9 308.6 203.9 309.5 205.6 309.9 208.9 310.3 211.6 310.0 213.9 309.1 216.1 307.7 216.9 307.5 221.1 308.3 224.1 308.6 230.1 308.2 232.6 307.7 236.4 306.1 239.4 307.3 242.4 308.1M261.0 225.6 262.6 225.1 263.9 224.1 265.4 222.4 266.3 220.9 266.6 217.9 265.7 214.4 264.4 212.6 259.6 208.8 250.6 202.6 247.6 200.9 245.6 200.3 244.4 200.1 242.4 200.2 239.4 200.7 236.6 201.9 234.1 204.1 233.6 204.4 229.9 204.4 221.1 206.0 216.9 206.6 214.6 207.3 214.0 207.6 213.6 208.1 213.8 208.9 215.7 212.4 218.5 216.4 220.8 219.1 224.9 223.0 229.4 225.4 230.4 225.6 235.9 225.0 237.6 224.4 239.4 223.4 240.1 223.3 246.6 224.0 251.9 224.2 255.1 224.6 259.9 225.7ZM260.4 227.7 264.1 228.0 269.6 227.6 271.9 227.2 272.4 226.6 272.5 225.1 272.1 222.9 270.2 217.1 267.2 211.9 265.1 209.1 262.1 205.9 259.4 203.3 250.3 194.9 247.4 192.6 246.6 192.5 244.6 193.2 240.1 195.3 237.9 196.0 234.6 196.7 232.1 196.7 226.6 195.7 224.6 195.1 223.1 194.5 218.9 191.9 213.6 190.5 209.8 189.1 209.2 188.6 209.0 187.6 208.6 183.9 208.7 181.1 209.3 179.1 210.5 176.6 212.4 174.4 219.1 169.1 226.1 164.6 228.4 163.2 233.9 160.8 242.1 159.2 278.1 156.3 284.4 156.3 288.6 156.7 292.4 157.3 301.1 159.2 308.4 161.3 313.6 163.4 318.4 165.9 321.6 168.1 325.5 171.9 327.0 173.9 330.0 179.6 331.9 184.1 334.2 191.4 334.8 194.1 336.8 213.4 337.9 219.4 340.2 227.9 341.9 235.1 343.2 243.1 343.7 250.4 343.8 253.9 343.7 257.6 342.7 264.4 339.7 276.9 337.2 285.4 336.5 289.1 335.7 294.4 333.8 323.1 333.6 324.9 333.0 327.1 332.0 329.6 331.2 331.1 327.3 336.1 323.9 339.3 320.4 341.9 313.4 346.1 311.1 348.0 309.9 348.7 307.1 349.4 302.1 350.3 289.9 352.1 274.9 353.9 267.6 354.2 259.9 353.9 251.1 352.6 240.6 350.7 231.9 348.5 224.6 346.1 219.1 343.8 210.9 339.7 208.6 339.0 206.8 337.9 206.0 336.9 205.3 335.6 204.5 332.9 204.4 330.9 204.8 327.1 204.9 326.6 205.5 326.1 214.4 322.3 222.6 317.7 225.1 316.6 232.9 313.6 236.6 312.3 242.1 311.1 246.6 311.6 250.1 311.6 254.4 311.2 257.9 310.7 263.2 308.9 265.1 307.5 266.9 304.7 268.4 301.5 270.5 294.9 271.7 290.9 272.1 288.6 272.5 283.4 272.4 282.4 272.1 282.0 271.1 281.7 266.4 281.6 259.6 282.8 255.6 283.0M219.4 231.6 217.1 231.7 215.9 231.4 214.4 230.8 213.4 229.9 211.8 227.4 210.7 224.6 210.3 222.4 210.4 221.9 210.8 221.4 212.4 220.9 214.9 220.8 216.9 221.5 218.5 222.9 219.8 224.9 220.8 227.1 221.2 228.9 221.1 229.9 220.7 230.6 220.1 231.3ZM250.0 276.9 249.8 275.6 248.6 273.1 248.1 272.5 247.6 272.2 245.6 272.1 241.6 272.4 238.1 271.7 234.6 273.0 232.1 273.2 230.4 273.1 228.1 272.7 226.1 272.1 222.1 269.9 221.3 268.9 220.4 265.9 219.8 262.6 219.8 260.1 218.6 257.4 218.4 254.9 218.5 252.6 219.4 250.4 220.4 248.8 222.1 246.6 222.3 243.6 222.9 241.9 223.9 240.1 226.4 237.8 228.4 236.5 229.6 236.1 231.1 236.4 237.1 238.5 244.6 237.7 245.2 237.1 248.9 230.6 249.9 229.4M266.1 343.1 262.1 343.4 253.9 343.2 251.4 342.7 248.6 341.7 246.1 340.4 242.9 337.8 239.1 333.4 238.6 332.6 238.6 331.9 240.1 329.5 242.1 327.4 247.6 323.7 255.4 319.3 261.1 315.6 263.6 313.8 266.1 311.4 267.6 309.6 269.3 306.6 275.4 297.1 278.6 292.6 286.6 280.3 288.4 277.1 289.3 274.6 289.7 272.4 290.0 268.4 291.3 261.4 291.4 253.1 291.1 247.1 290.7 243.4 289.7 238.6 288.5 235.1 285.8 229.4 281.6 222.6 276.4 215.8 260.6 196.8 258.2 193.4 256.3 190.1 254.4 186.1 253.1 184.3 251.6 182.6 249.6 181.4 242.6 179.7 236.8 177.4 236.3 177.1 236.1 176.6 236.6 175.4 237.7 174.1 239.1 172.9 241.6 171.1 244.9 169.6 250.1 168.3 258.6 167.0 267.4 166.1 273.1 165.8 285.9 165.4 291.9 165.9 295.1 166.4 298.1 167.3 300.4 168.3 302.0 169.6 305.1 173.1 306.2 174.9 307.3 177.4 310.4 181.1 312.1 184.6 312.9 187.4 313.2 190.1 314.4 195.9 313.4 199.6 312.7 203.6 312.5 207.1 312.9 210.1 313.6 212.6 314.4 214.9 317.4 221.1 320.9 227.6 324.6 232.4 325.1 233.4 326.6 239.4 329.3 252.4 329.6 256.6 329.1 261.6 327.8 267.4 325.8 273.9 323.5 282.9 319.3 295.6 317.6 300.1 315.7 312.1 314.0 318.9 313.7 321.6 312.3 325.1 309.9 329.1 306.6 332.9 303.6 335.5 302.4 336.3 299.1 337.6 293.9 339.0 278.1 341.8 272.9 342.5ZM255.1 281.7 254.1 281.7 253.1 281.4 252.1 280.9 251.5 280.4 251.0 279.6 250.8 278.9 250.9 276.9 251.5 275.1 252.2 273.9 258.3 265.6 260.2 262.1 261.3 258.6 261.9 253.9 261.8 252.1 261.4 250.1 260.2 247.1 258.7 244.4 257.4 242.5 254.0 238.1 251.9 235.9 250.8 233.4 250.7 231.4 251.5 229.9 252.9 228.9 255.4 228.4 257.9 228.8 260.6 230.3 264.6 233.2 270.4 238.6 273.6 242.4 276.2 246.4 277.2 248.4 278.0 250.9 278.3 252.4 278.4 253.9 278.1 256.1 276.7 259.6 273.7 264.4 271.7 266.9 269.6 269.1 258.4 279.6 256.6 280.9ZM274.1 328.9 272.4 329.1 270.1 329.0 267.5 328.4 266.6 327.9 266.3 326.9 266.3 324.9 267.0 320.9 268.2 318.4 269.9 315.4 274.1 305.9 276.9 300.7 278.4 298.4 281.0 294.9 285.5 289.9 291.6 280.4 293.6 276.6 298.3 263.1 299.5 257.4 299.6 253.4 299.1 248.4 297.7 242.6 295.7 236.9 294.6 234.6 292.6 231.5 290.1 228.7 288.7 226.6 287.5 224.4 285.6 220.1 283.6 216.9 280.9 213.1 276.6 207.9 265.4 195.6 263.9 193.4 262.5 190.9 261.9 188.6 261.8 186.4 262.1 184.4 263.3 180.4 264.0 179.9 265.6 179.5 269.6 179.0 273.6 179.6 279.9 181.7 284.9 184.7 287.1 186.5 288.5 187.9 289.2 190.1 290.3 192.1 293.7 197.4 297.1 203.9 306.8 225.9 309.1 233.1 310.0 236.6 311.8 246.4 313.3 252.9 313.7 256.6 313.5 259.1 313.2 261.4 312.0 265.6 309.7 271.1 309.2 273.1 308.6 277.6 307.9 279.9 305.3 286.1 302.4 290.8 300.9 293.9 300.5 295.1 299.1 303.4 298.2 305.9 297.1 308.1 294.3 311.6 292.2 314.9 290.4 321.5 289.6 322.3 288.2 323.1 280.9 325.6 276.1 328.2ZM263.9 269.6 262.6 269.8 261.9 269.6 261.7 269.1 261.7 268.4 262.3 265.9 263.6 263.1 265.4 257.8 265.9 255.1 265.8 252.4 264.8 249.1 263.6 246.9 260.1 241.6 258.1 238.1 257.3 235.6 257.5 234.9 258.0 234.6 259.9 234.9 261.5 235.6 263.3 236.9 267.4 240.4 271.6 244.9 273.4 247.1 275.3 250.4 276.0 252.6 276.1 254.4 275.7 256.1 274.9 258.4 273.6 260.7 271.8 263.1 267.9 267.1 265.7 268.9Z"/>
<path d="M251.8 231.3 C252.42 230.58 254.45 229.68 256.1 230.1 C257.75 230.52 259.63 232.05 261.7 233.8 C263.77 235.55 266.43 238.43 268.5 240.6 C270.57 242.77 272.72 244.77 274.1 246.8 C275.48 248.83 276.55 250.9 276.8 252.8 C277.05 254.7 276.57 256.3 275.6 258.2 C274.63 260.1 272.8 262.17 271 264.2 C269.2 266.23 266.87 268.33 264.8 270.4 C262.73 272.47 260.25 274.95 258.6 276.6 C256.95 278.25 256.03 279.98 254.9 280.3 C253.77 280.62 252.22 279.33 251.8 278.5 C251.38 277.67 251.58 276.55 252.4 275.3 C253.22 274.05 255.25 272.55 256.7 271 C258.15 269.45 259.85 267.75 261.1 266 C262.35 264.25 263.48 262.57 264.2 260.5 C264.92 258.43 265.4 255.67 265.4 253.6 C265.4 251.53 265.02 249.85 264.2 248.1 C263.38 246.35 261.85 244.77 260.5 243.1 C259.15 241.43 257.45 239.55 256.1 238.1 C254.75 236.65 253.12 235.53 252.4 234.4 C251.68 233.27 251.18 232.02 251.8 231.3Z" stroke-width="1.2" stroke="#4a0000"/>
<path d="M119 136.3 C119.63 136.77 121.63 137.85 122.8 139.1 C123.97 140.35 125.15 142.23 126 143.8 C126.85 145.37 127.42 146.77 127.9 148.5 C128.38 150.23 128.7 152 128.9 154.2 C129.1 156.4 129.05 158.07 129.1 161.7 C129.15 165.33 129.25 170.95 129.2 176 C129.15 181.05 129.2 183.83 128.8 192 C128.4 200.17 127.8 215 126.8 225 C125.8 235 123.5 245.83 122.8 252 C122.1 258.17 122.32 257.33 122.6 262 C122.88 266.67 123.85 273.67 124.5 280 C125.15 286.33 125.78 292.67 126.5 300 C127.22 307.33 128.28 316.88 128.8 324 C129.32 331.12 129.57 337.12 129.6 342.75 C129.63 348.38 129.68 353.38 129 357.75 C128.32 362.12 127.17 365.71 125.5 369 C123.83 372.29 120.08 376.08 119 377.5" stroke-width="0.8"/>
<path d="M634 130.4 C626.58 130.15 604.22 129.15 589.5 128.9 C574.78 128.65 560.32 128.65 545.7 128.9 C531.08 129.15 514.42 129.85 501.8 130.4 C489.18 130.95 477.32 131.72 470 132.2 C462.68 132.68 462.69 132.67 457.9 133.3 C453.11 133.93 445.9 134.3 441.25 136 C436.6 137.7 433.33 141 430 143.5 C426.67 146 423.75 148.5 421.25 151 C418.75 153.5 416.88 155.79 415 158.5 C413.12 161.21 411.25 163.71 410 167.25 C408.75 170.79 408.2 175.62 407.5 179.75 C406.8 183.88 406.05 187.88 405.8 192 C405.55 196.12 405.82 200.33 406 204.5 C406.18 208.67 406.23 213.33 406.9 217 C407.57 220.67 408.23 224.08 410 226.5 C411.77 228.92 414.1 230.53 417.5 231.5 C420.9 232.47 425.67 230.73 430.4 232.3 C435.13 233.87 439.57 238.88 445.9 240.9 C452.23 242.92 462.35 243.38 468.4 244.4 C474.45 245.42 478.17 245.85 482.2 247 C486.23 248.15 489.72 250.15 492.6 251.3 C495.48 252.45 498.27 252.95 499.5 253.9 C500.73 254.85 500 256 500 257 C500 258 501.32 258.83 499.5 259.9 C497.68 260.97 492.85 262.53 489.1 263.4 C485.35 264.27 481.32 264.52 477 265.1 C472.68 265.68 468.08 266.32 463.2 266.9 C458.32 267.48 452.6 266.88 447.7 268.6 C442.8 270.32 437.55 275.18 433.8 277.2 C430.05 279.22 427.83 278.57 425.2 280.7 C422.57 282.83 420.2 286.45 418 290 C415.8 293.55 413.58 297 412 302 C410.42 307 409.08 313.67 408.5 320 C407.92 326.33 408.08 334.67 408.5 340 C408.92 345.33 410.08 348.68 411 352 C411.92 355.32 411.07 357.37 414 359.9 C416.93 362.43 421.28 364.52 428.6 367.2 C435.92 369.88 448.15 373.82 457.9 376 C467.65 378.18 474.92 379.33 487.1 380.3 C499.28 381.27 513.93 381.8 531 381.8 C548.07 381.8 572.33 380.78 589.5 380.3 C606.67 379.82 626.58 379.13 634 378.9" stroke-width="0.8"/>
<path d="M505.6 180.4 C505.6 179.28 506.93 177.8 508 176.8 C509.07 175.8 510 175 512 174.4 C514 173.8 518.15 173.6 520 173.2 C521.85 172.8 521.92 172.93 523.1 172 C524.28 171.07 524.3 168.33 527.1 167.6 C529.9 166.87 537.23 167.8 539.9 167.6 C542.57 167.4 541.37 166.8 543.1 166.4 C544.83 166 546.47 165.35 550.3 165.2 C554.13 165.05 559.57 164.97 566.1 165.5 C572.63 166.03 583.15 167.18 589.5 168.4 C595.85 169.62 599.32 170.35 604.2 172.8 C609.08 175.25 615 180.98 618.8 183.1 C622.6 185.22 624.97 184.52 627 185.5 C629.03 186.48 630.42 187.58 631 189 C631.58 190.42 631.33 192.5 630.5 194 C629.67 195.5 627.58 196.33 626 198 C624.42 199.67 622.5 202.83 621 204 C619.5 205.17 618.17 205.83 617 205 C615.83 204.17 615.17 198.83 614 199 C612.83 199.17 611.33 205 610 206 C608.67 207 607.17 206.33 606 205 C604.83 203.67 604.17 198 603 198 C601.83 198 600.33 203.83 599 205 C597.67 206.17 596.17 206.33 595 205 C593.83 203.67 593.17 197 592 197 C590.83 197 589.33 203.67 588 205 C586.67 206.33 585.33 206.17 584 205 C582.67 203.83 581.33 198 580 198 C578.67 198 577.33 204 576 205 C574.67 206 573.33 205.33 572 204 C570.67 202.67 569.33 197 568 197 C566.67 197 565.33 202.83 564 204 C562.67 205.17 561.17 204.67 560 204 C558.83 203.33 559.55 200.68 557 200 C554.45 199.32 547.68 200.32 544.7 199.9 C541.72 199.48 542.03 198.03 539.1 197.5 C536.17 196.97 529.77 197.37 527.1 196.7 C524.43 196.03 524.95 193.9 523.1 193.5 C521.25 193.1 517.92 194.57 516 194.3 C514.08 194.03 512.07 193.1 511.6 191.9 C511.13 190.7 513.13 188.5 513.2 187.1 C513.27 185.7 512.87 184.1 512 183.5 C511.13 182.9 509.07 184.02 508 183.5 C506.93 182.98 505.6 181.52 505.6 180.4Z" stroke-width="0.7"/>
<path d="M494.5 329.1 C495 326.42 496.68 321.08 501.8 318.9 C506.92 316.72 517.88 317.22 525.2 316 C532.52 314.78 540.73 313.1 545.7 311.6 C550.67 310.1 553.05 308.22 555 307 C556.95 305.78 556.52 303.78 557.4 304.3 C558.28 304.82 558.87 309.65 560.3 310.1 C561.73 310.55 564.05 308.47 566 307 C567.95 305.53 570.03 301.02 572 301.3 C573.97 301.58 576.13 308.08 577.8 308.7 C579.47 309.32 580.53 306.47 582 305 C583.47 303.53 584.85 299.28 586.6 299.9 C588.35 300.52 590.77 307.85 592.5 308.7 C594.23 309.55 595.55 305.98 597 305 C598.45 304.02 599.7 302.63 601.2 302.8 C602.7 302.97 604.53 305.02 606 306 C607.47 306.98 608.67 308.7 610 308.7 C611.33 308.7 612.53 306.5 614 306 C615.47 305.5 617.02 304.53 618.8 305.7 C620.58 306.87 622.5 311.05 624.7 313 C626.9 314.95 630.7 315.9 632 317.4 C633.3 318.9 632.5 320.53 632.5 322 C632.5 323.47 634.28 325.02 632 326.2 C629.72 327.38 622.95 327.15 618.8 329.1 C614.65 331.05 611.98 335.45 607.1 337.9 C602.22 340.35 597.3 341.85 589.5 343.8 C581.7 345.75 570.05 349.12 560.3 349.6 C550.55 350.08 539.3 348.17 531 346.7 C522.7 345.23 515.87 342.75 510.5 340.8 C505.13 338.85 501.47 336.95 498.8 335 C496.13 333.05 494 331.78 494.5 329.1Z" stroke-width="0.7"/>
<path d="M555.9 256 C555.9 255 556.17 253.5 556.7 253 C557.23 252.5 558.57 252.5 559.1 253 C559.63 253.5 559.9 255 559.9 256 C559.9 257 559.63 258.5 559.1 259 C558.57 259.5 557.23 259.5 556.7 259 C556.17 258.5 555.9 257 555.9 256Z" stroke-width="0.7"/>
<path d="M569 256 C569 255 569.27 253.5 569.8 253 C570.33 252.5 571.67 252.5 572.2 253 C572.73 253.5 573 255 573 256 C573 257 572.73 258.5 572.2 259 C571.67 259.5 570.33 259.5 569.8 259 C569.27 258.5 569 257 569 256Z" stroke-width="0.7"/>
<path d="M582 256 C582 255 582.27 253.5 582.8 253 C583.33 252.5 584.67 252.5 585.2 253 C585.73 253.5 586 255 586 256 C586 257 585.73 258.5 585.2 259 C584.67 259.5 583.33 259.5 582.8 259 C582.27 258.5 582 257 582 256Z" stroke-width="0.7"/>
<path d="M594 256 C594 255 594.27 253.5 594.8 253 C595.33 252.5 596.67 252.5 597.2 253 C597.73 253.5 598 255 598 256 C598 257 597.73 258.5 597.2 259 C596.67 259.5 595.33 259.5 594.8 259 C594.27 258.5 594 257 594 256Z" stroke-width="0.7"/>
<path d="M606 256 C606 255 606.27 253.5 606.8 253 C607.33 252.5 608.67 252.5 609.2 253 C609.73 253.5 610 255 610 256 C610 257 609.73 258.5 609.2 259 C608.67 259.5 607.33 259.5 606.8 259 C606.27 258.5 606 257 606 256Z" stroke-width="0.7"/>
<path d="M618 256 C618 255 618.27 253.5 618.8 253 C619.33 252.5 620.67 252.5 621.2 253 C621.73 253.5 622 255 622 256 C622 257 621.73 258.5 621.2 259 C620.67 259.5 619.33 259.5 618.8 259 C618.27 258.5 618 257 618 256Z" stroke-width="0.7"/>
<path d="M630 256 C630 255 630.27 253.5 630.8 253 C631.33 252.5 632.67 252.5 633.2 253 C633.73 253.5 634 255 634 256 C634 257 633.73 258.5 633.2 259 C632.67 259.5 631.33 259.5 630.8 259 C630.27 258.5 630 257 630 256Z" stroke-width="0.7"/>
</g>
<text x="276" y="175.5" font-size="13" text-anchor="middle" dominant-baseline="central" transform="rotate(-8 276 175.5)" style="fill:#000;font-weight:200">180.</text>
<text x="297" y="221" font-size="13" text-anchor="middle" dominant-baseline="central" transform="rotate(63 297 221)" style="fill:#000;font-weight:200">200.</text>
<text x="335" y="248" font-size="12.5" text-anchor="middle" dominant-baseline="central" transform="rotate(78 335 248)" style="fill:#000;font-weight:200">160</text>
<text x="360.5" y="252.5" font-size="12.5" text-anchor="middle" dominant-baseline="central" transform="rotate(86 360.5 252.5)" style="fill:#000;font-weight:200">100</text>
<text x="339" y="308" font-size="12" text-anchor="middle" dominant-baseline="central" transform="rotate(-70 339 308)" style="fill:#000;font-weight:200">140</text>
<text x="345.5" y="314" font-size="12" text-anchor="middle" dominant-baseline="central" transform="rotate(-70 345.5 314)" style="fill:#000;font-weight:200">120</text>
<text x="207" y="200.5" font-size="13" text-anchor="middle" dominant-baseline="central" transform="rotate(-4 207 200.5)" style="fill:#000;font-weight:200">140</text>
<text x="166" y="214" font-size="12" text-anchor="middle" dominant-baseline="central" transform="rotate(-62 166 214)" style="fill:#000;font-weight:200">120.</text>
<text x="395.6" y="182" font-size="12.5" text-anchor="middle" dominant-baseline="central" transform="rotate(-90 395.6 182)" style="fill:#000;font-weight:200">40.0</text>
<text x="373" y="208" font-size="12" text-anchor="middle" dominant-baseline="central" transform="rotate(-90 373 208)" style="fill:#000;font-weight:200">80.0</text>
<text x="372.5" y="238" font-size="12" text-anchor="middle" dominant-baseline="central" transform="rotate(-90 372.5 238)" style="fill:#000;font-weight:200">60.0</text>
<text x="125" y="224" font-size="11" text-anchor="middle" dominant-baseline="central" transform="rotate(-78 125 224)" style="fill:#000;font-weight:200">40.0</text>
<text x="134" y="231" font-size="11" text-anchor="middle" dominant-baseline="central" transform="rotate(-76 134 231)" style="fill:#000;font-weight:200">60.0</text>
<text x="141.5" y="243" font-size="11" text-anchor="middle" dominant-baseline="central" transform="rotate(-75 141.5 243)" style="fill:#000;font-weight:200">80.0</text>
<text x="148.5" y="249" font-size="11" text-anchor="middle" dominant-baseline="central" transform="rotate(-74 148.5 249)" style="fill:#000;font-weight:200">100.</text>
<text x="463.5" y="229.5" font-size="13.5" text-anchor="middle" dominant-baseline="central" transform="rotate(14 463.5 229.5)" style="fill:#000;font-weight:200">20.0</text>
<text x="455.5" y="361" font-size="13.5" text-anchor="middle" dominant-baseline="central" transform="rotate(20 455.5 361)" style="fill:#000;font-weight:200">20.0</text>
</g>
<path d="M118.5 127V384.5" stroke="#444" stroke-width="1" fill="none"/>
<path d="M118 127.5H633.2" stroke="#000" stroke-width="1" fill="none"/>
<path d="M119 384H633.2" stroke="#000" stroke-width="1" opacity="0.35" fill="none"/>
<path d="M633.6 127V384.5" stroke="#999" stroke-width="0.8" opacity="0.5" fill="none"/>
<path d="M119.5 384V377M119.5 127V134M133.5 384V380.5M133.5 127V130.5M147.5 384V380.5M147.5 127V130.5M162.5 384V380.5M162.5 127V130.5M176.5 384V380.5M176.5 127V130.5M190.5 384V377M190.5 127V134M205.5 384V380.5M205.5 127V130.5M219.5 384V380.5M219.5 127V130.5M234.5 384V380.5M234.5 127V130.5M248.5 384V380.5M248.5 127V130.5M262.5 384V377M262.5 127V134M277.5 384V380.5M277.5 127V130.5M291.5 384V380.5M291.5 127V130.5M306.5 384V380.5M306.5 127V130.5M320.5 384V380.5M320.5 127V130.5M334.5 384V377M334.5 127V134M349.5 384V380.5M349.5 127V130.5M363.5 384V380.5M363.5 127V130.5M378.5 384V380.5M378.5 127V130.5M392.5 384V380.5M392.5 127V130.5M406.5 384V377M406.5 127V134M421.5 384V380.5M421.5 127V130.5M435.5 384V380.5M435.5 127V130.5M449.5 384V380.5M449.5 127V130.5M464.5 384V380.5M464.5 127V130.5M478.5 384V377M478.5 127V134M493.5 384V380.5M493.5 127V130.5M507.5 384V380.5M507.5 127V130.5M521.5 384V380.5M521.5 127V130.5M536.5 384V380.5M536.5 127V130.5M550.5 384V377M550.5 127V134M565.5 384V380.5M565.5 127V130.5M579.5 384V380.5M579.5 127V130.5M593.5 384V380.5M593.5 127V130.5M608.5 384V380.5M608.5 127V130.5M622.5 384V377M622.5 127V134M119 372.5H122.5M633 372.5H629.5M119 357.5H122.5M633 357.5H629.5M119 343.5H122.5M633 343.5H629.5M119 328.5H126M633 328.5H626M119 314.5H122.5M633 314.5H629.5M119 299.5H122.5M633 299.5H629.5M119 284.5H122.5M633 284.5H629.5M119 270.5H122.5M633 270.5H629.5M119 255.5H126M633 255.5H626M119 240.5H122.5M633 240.5H629.5M119 226.5H122.5M633 226.5H629.5M119 211.5H122.5M633 211.5H629.5M119 197.5H122.5M633 197.5H629.5M119 182.5H126M633 182.5H626M119 167.5H122.5M633 167.5H629.5M119 153.5H122.5M633 153.5H629.5M119 138.5H122.5M633 138.5H629.5" stroke="#000" stroke-width="1" fill="none"/>
<text x="119" y="401" font-size="13.6" text-anchor="middle" textLength="8.2" lengthAdjust="spacingAndGlyphs">0</text>
<text x="190.95" y="401" font-size="13.6" text-anchor="middle" textLength="16.4" lengthAdjust="spacingAndGlyphs">50</text>
<text x="262.9" y="401" font-size="13.6" text-anchor="middle" textLength="24.6" lengthAdjust="spacingAndGlyphs">100</text>
<text x="334.85" y="401" font-size="13.6" text-anchor="middle" textLength="24.6" lengthAdjust="spacingAndGlyphs">150</text>
<text x="406.8" y="401" font-size="13.6" text-anchor="middle" textLength="24.6" lengthAdjust="spacingAndGlyphs">200</text>
<text x="478.76" y="401" font-size="13.6" text-anchor="middle" textLength="24.6" lengthAdjust="spacingAndGlyphs">250</text>
<text x="550.71" y="401" font-size="13.6" text-anchor="middle" textLength="24.6" lengthAdjust="spacingAndGlyphs">300</text>
<text x="622.66" y="401" font-size="13.6" text-anchor="middle" textLength="24.6" lengthAdjust="spacingAndGlyphs">350</text>
<text x="94.7" y="187.28" font-size="13.6" textLength="16.3" lengthAdjust="spacingAndGlyphs">50</text>
<text x="103.1" y="260.4" font-size="13.6" textLength="7.9" lengthAdjust="spacingAndGlyphs">0</text>
<text x="83.4" y="333.52" font-size="13.6" textLength="27.6" lengthAdjust="spacingAndGlyphs">−50</text>
<text x="47" y="409.6" font-size="11.6" textLength="107" lengthAdjust="spacingAndGlyphs">(degree_north)</text>
<text x="549.5" y="419.3" font-size="11.6" textLength="99.5" lengthAdjust="spacingAndGlyphs">(degree_east)</text>
<text x="334.5" y="443.9" font-size="17.6" textLength="83.5" lengthAdjust="spacing" style="stroke-width:0.12px">longitude</text>
<text transform="translate(70.6 288.6) rotate(-90)" font-size="17.2" textLength="66.5" lengthAdjust="spacing" style="stroke-width:0.12px">latitude</text>
<text x="268" y="91.2" font-size="19.6" textLength="215.5" lengthAdjust="spacing" style="stroke-width:0.08px">outgoing longwave</text>
<text x="256.6" y="480.7" font-size="13.3" textLength="64.3" lengthAdjust="spacingAndGlyphs">CONTOUR</text>
<text x="329.9" y="480.7" font-size="13.3" textLength="60.8" lengthAdjust="spacingAndGlyphs">INTERVAL</text>
<text x="399.7" y="480.7" font-size="13.3" textLength="9.2" lengthAdjust="spacingAndGlyphs">=</text>
<text x="419.3" y="480.7" font-size="13.3" textLength="75" lengthAdjust="spacingAndGlyphs">1.000E+01</text>
<rect x="265.6" y="494.4" width="22.1" height="15.1" fill="#7a00b0"/>
<rect x="287.7" y="494.4" width="22.1" height="15.1" fill="#0000f0"/>
<rect x="309.8" y="494.4" width="22.1" height="15.1" fill="#0a82ff"/>
<rect x="331.9" y="494.4" width="22.1" height="15.1" fill="#00fff0"/>
<rect x="354" y="494.4" width="22.1" height="15.1" fill="#00f850"/>
<rect x="376.1" y="494.4" width="22.1" height="15.1" fill="#46f000"/>
<rect x="398.2" y="494.4" width="22.1" height="15.1" fill="#dcff00"/>
<rect x="420.3" y="494.4" width="22.1" height="15.1" fill="#ff9600"/>
<rect x="442.4" y="494.4" width="22.1" height="15.1" fill="#ff0000"/>
<rect x="464.5" y="494.4" width="22.1" height="15.1" fill="#ff9e9e"/>
<path d="M270.5 494.4V509.5M273.5 494.4V509.5M276.5 494.4V509.5M282.5 494.4V509.5M285.5 494.4V509.5M292.5 494.4V509.5M295.5 494.4V509.5M298.5 494.4V509.5M304.5 494.4V509.5M307.5 494.4V509.5M314.5 494.4V509.5M317.5 494.4V509.5M320.5 494.4V509.5M327.5 494.4V509.5M329.5 494.4V509.5M336.5 494.4V509.5M339.5 494.4V509.5M342.5 494.4V509.5M349.5 494.4V509.5M351.5 494.4V509.5M358.5 494.4V509.5M361.5 494.4V509.5M365.5 494.4V509.5M371.5 494.4V509.5M373.5 494.4V509.5M380.5 494.4V509.5M384.5 494.4V509.5M387.5 494.4V509.5M393.5 494.4V509.5M395.5 494.4V509.5M403.5 494.4V509.5M406.5 494.4V509.5M409.5 494.4V509.5M415.5 494.4V509.5M417.5 494.4V509.5M425.5 494.4V509.5M428.5 494.4V509.5M431.5 494.4V509.5M437.5 494.4V509.5M439.5 494.4V509.5M447.5 494.4V509.5M450.5 494.4V509.5M453.5 494.4V509.5M459.5 494.4V509.5M461.5 494.4V509.5M469.5 494.4V509.5M472.5 494.4V509.5M475.5 494.4V509.5M481.5 494.4V509.5M483.5 494.4V509.5" stroke="#fff" stroke-width="1" opacity="0.2" fill="none"/>
<path d="M265.6 494.4V509.5M287.7 494.4V509.5M309.8 494.4V509.5M331.9 494.4V509.5M354 494.4V509.5M376.1 494.4V509.5M398.2 494.4V509.5M420.3 494.4V509.5M442.4 494.4V509.5M464.5 494.4V509.5M486.6 494.4V509.5M265.6 494.4H486.6M265.6 509.5H486.6" stroke="#111" stroke-width="0.9" fill="none"/>
<text x="265.6" y="524.7" font-size="11.4" text-anchor="middle" textLength="7.4" lengthAdjust="spacingAndGlyphs">0</text>
<text x="309.8" y="524.7" font-size="11.4" text-anchor="middle" textLength="14.8" lengthAdjust="spacingAndGlyphs">40</text>
<text x="354" y="524.7" font-size="11.4" text-anchor="middle" textLength="14.8" lengthAdjust="spacingAndGlyphs">80</text>
<text x="398.2" y="524.7" font-size="11.4" text-anchor="middle" textLength="22.2" lengthAdjust="spacingAndGlyphs">120</text>
<text x="442.4" y="524.7" font-size="11.4" text-anchor="middle" textLength="22.2" lengthAdjust="spacingAndGlyphs">160</text>
<text x="486.6" y="524.7" font-size="11.4" text-anchor="middle" textLength="22.2" lengthAdjust="spacingAndGlyphs">200</text>
</svg></body></html>
